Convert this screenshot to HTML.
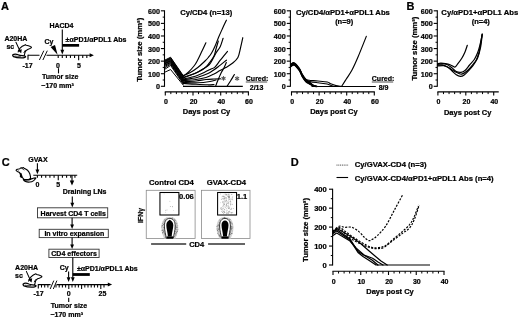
<!DOCTYPE html><html><head><meta charset="utf-8"><style>html,body{margin:0;padding:0;background:#fff;overflow:hidden}svg{display:block;filter:blur(0.35px)}svg text{font-family:"Liberation Sans",sans-serif;font-weight:bold}</style></head><body>
<svg width="520" height="319" viewBox="0 0 520 319" font-family="Liberation Sans, sans-serif" font-weight="bold">
<rect width="520" height="319" fill="#fff"/>
<text x="1.0" y="9.9" font-size="11" text-anchor="start" stroke="#000" stroke-width="0.22" >A</text>
<text x="4.4" y="41.2" font-size="7" text-anchor="start" stroke="#000" stroke-width="0.22" >A20HA</text>
<text x="6.4" y="49.4" font-size="7" text-anchor="start" stroke="#000" stroke-width="0.22" >sc</text>
<g transform="translate(10,40) scale(0.06266)" fill="#fff" stroke="#000" stroke-linejoin="round" stroke-linecap="round">
<path stroke-width="17" d="M130,190 C140,150 160,120 195,100 C215,88 235,80 248,74 L258,84 C280,88 305,95 325,105 C338,110 345,115 342,122 C330,135 305,142 282,150 C262,160 248,175 240,195 C236,215 232,235 225,252"/>
<path stroke-width="20" d="M42,239 C62,221 100,221 135,236 C165,246 205,250 246,260 C256,272 236,283 208,285 C158,287 92,281 57,266 C47,259 40,251 42,239 Z"/>
<path stroke-width="11" fill="none" d="M77,256 C107,261 137,263 167,261"/>
<path stroke-width="13" fill="none" stroke-dasharray="9,8" d="M245,165 L218,208"/>
<line x1="95" y1="35" x2="152" y2="160" stroke-width="16"/>
<polygon points="122,165 188,146 178,212" fill="#000" stroke="none"/>
</g>
<line x1="28.00" y1="55.30" x2="90.50" y2="55.30" stroke="#000" stroke-width="1.1" />
<polygon points="89.60,53.30 89.60,57.30 93.90,55.30" fill="#000"/>
<line x1="28.00" y1="54.80" x2="28.00" y2="59.80" stroke="#000" stroke-width="1.1" />
<rect x="39.5" y="53.8" width="7" height="3" fill="#fff"/>
<line x1="39.40" y1="60.00" x2="43.80" y2="50.70" stroke="#000" stroke-width="0.95" />
<line x1="42.90" y1="60.00" x2="47.30" y2="50.70" stroke="#000" stroke-width="0.95" />
<line x1="58.20" y1="55.30" x2="58.20" y2="57.90" stroke="#000" stroke-width="1.1" />
<line x1="62.29" y1="55.30" x2="62.29" y2="57.90" stroke="#000" stroke-width="1.1" />
<line x1="66.38" y1="55.30" x2="66.38" y2="57.90" stroke="#000" stroke-width="1.1" />
<line x1="70.47" y1="55.30" x2="70.47" y2="57.90" stroke="#000" stroke-width="1.1" />
<line x1="74.56" y1="55.30" x2="74.56" y2="57.90" stroke="#000" stroke-width="1.1" />
<line x1="78.65" y1="55.30" x2="78.65" y2="60.30" stroke="#000" stroke-width="1.1" />
<line x1="82.74" y1="55.30" x2="82.74" y2="57.90" stroke="#000" stroke-width="1.1" />
<line x1="86.83" y1="55.30" x2="86.83" y2="57.90" stroke="#000" stroke-width="1.1" />
<text x="58.0" y="67.9" font-size="7" text-anchor="middle" stroke="#000" stroke-width="0.22" >0</text>
<text x="78.9" y="67.9" font-size="7" text-anchor="middle" stroke="#000" stroke-width="0.22" >5</text>
<text x="27.6" y="67.6" font-size="7" text-anchor="middle" stroke="#000" stroke-width="0.22" >-17</text>
<line x1="58.50" y1="68.20" x2="58.50" y2="73.40" stroke="#000" stroke-width="1.1" />
<text x="41.9" y="79.0" font-size="7" text-anchor="start" stroke="#000" stroke-width="0.22" >Tumor size</text>
<text x="41.3" y="87.6" font-size="7" text-anchor="start" stroke="#000" stroke-width="0.22" >~170 mm³</text>
<text x="44.4" y="43.8" font-size="7" text-anchor="start" stroke="#000" stroke-width="0.22" >Cy</text>
<polygon points="50.60,46.90 55.00,45.10 57.60,54.70" fill="#000"/>
<text x="49.4" y="28.2" font-size="7" text-anchor="start" stroke="#000" stroke-width="0.22" >HACD4</text>
<line x1="62.30" y1="29.40" x2="62.30" y2="50.30" stroke="#000" stroke-width="1.1" />
<polygon points="60.40,49.80 64.20,49.80 62.30,54.60" fill="#000"/>
<rect x="62.3" y="44.0" width="16.8" height="2.7" fill="#000"/>
<text x="65.6" y="42.0" font-size="7" text-anchor="start" stroke="#000" stroke-width="0.22" >±αPD1/αPDL1 Abs</text>
<line x1="164.50" y1="10.32" x2="164.50" y2="86.80" stroke="#000" stroke-width="1.1" />
<line x1="160.90" y1="86.30" x2="164.50" y2="86.30" stroke="#000" stroke-width="1.1" />
<text x="159.9" y="89.3" font-size="7.2" text-anchor="end" stroke="#000" stroke-width="0.22" >0</text>
<line x1="160.90" y1="73.72" x2="164.50" y2="73.72" stroke="#000" stroke-width="1.1" />
<text x="159.9" y="76.72" font-size="7.2" text-anchor="end" stroke="#000" stroke-width="0.22" >100</text>
<line x1="160.90" y1="61.14" x2="164.50" y2="61.14" stroke="#000" stroke-width="1.1" />
<text x="159.9" y="64.14" font-size="7.2" text-anchor="end" stroke="#000" stroke-width="0.22" >200</text>
<line x1="160.90" y1="48.56" x2="164.50" y2="48.56" stroke="#000" stroke-width="1.1" />
<text x="159.9" y="51.559999999999995" font-size="7.2" text-anchor="end" stroke="#000" stroke-width="0.22" >300</text>
<line x1="160.90" y1="35.98" x2="164.50" y2="35.98" stroke="#000" stroke-width="1.1" />
<text x="159.9" y="38.98" font-size="7.2" text-anchor="end" stroke="#000" stroke-width="0.22" >400</text>
<line x1="160.90" y1="23.40" x2="164.50" y2="23.40" stroke="#000" stroke-width="1.1" />
<text x="159.9" y="26.4" font-size="7.2" text-anchor="end" stroke="#000" stroke-width="0.22" >500</text>
<line x1="160.90" y1="10.82" x2="164.50" y2="10.82" stroke="#000" stroke-width="1.1" />
<text x="159.9" y="13.819999999999993" font-size="7.2" text-anchor="end" stroke="#000" stroke-width="0.22" >600</text>
<line x1="162.70" y1="80.01" x2="164.50" y2="80.01" stroke="#000" stroke-width="1.0" />
<line x1="162.70" y1="67.43" x2="164.50" y2="67.43" stroke="#000" stroke-width="1.0" />
<line x1="162.70" y1="54.85" x2="164.50" y2="54.85" stroke="#000" stroke-width="1.0" />
<line x1="162.70" y1="42.27" x2="164.50" y2="42.27" stroke="#000" stroke-width="1.0" />
<line x1="162.70" y1="29.69" x2="164.50" y2="29.69" stroke="#000" stroke-width="1.0" />
<line x1="162.70" y1="17.11" x2="164.50" y2="17.11" stroke="#000" stroke-width="1.0" />
<line x1="164.75" y1="91.90" x2="248.95" y2="91.90" stroke="#000" stroke-width="1.1" />
<line x1="165.30" y1="91.90" x2="165.30" y2="95.60" stroke="#000" stroke-width="1.1" />
<text x="165.9" y="103.6" font-size="7" text-anchor="middle" stroke="#000" stroke-width="0.22" >0</text>
<line x1="170.84" y1="91.90" x2="170.84" y2="94.10" stroke="#000" stroke-width="1.0" />
<line x1="176.38" y1="91.90" x2="176.38" y2="94.10" stroke="#000" stroke-width="1.0" />
<line x1="181.92" y1="91.90" x2="181.92" y2="94.10" stroke="#000" stroke-width="1.0" />
<line x1="187.46" y1="91.90" x2="187.46" y2="94.10" stroke="#000" stroke-width="1.0" />
<line x1="193.00" y1="91.90" x2="193.00" y2="95.60" stroke="#000" stroke-width="1.1" />
<text x="193.6" y="103.6" font-size="7" text-anchor="middle" stroke="#000" stroke-width="0.22" >20</text>
<line x1="198.54" y1="91.90" x2="198.54" y2="94.10" stroke="#000" stroke-width="1.0" />
<line x1="204.08" y1="91.90" x2="204.08" y2="94.10" stroke="#000" stroke-width="1.0" />
<line x1="209.62" y1="91.90" x2="209.62" y2="94.10" stroke="#000" stroke-width="1.0" />
<line x1="215.16" y1="91.90" x2="215.16" y2="94.10" stroke="#000" stroke-width="1.0" />
<line x1="220.70" y1="91.90" x2="220.70" y2="95.60" stroke="#000" stroke-width="1.1" />
<text x="221.3" y="103.6" font-size="7" text-anchor="middle" stroke="#000" stroke-width="0.22" >40</text>
<line x1="226.24" y1="91.90" x2="226.24" y2="94.10" stroke="#000" stroke-width="1.0" />
<line x1="231.78" y1="91.90" x2="231.78" y2="94.10" stroke="#000" stroke-width="1.0" />
<line x1="237.32" y1="91.90" x2="237.32" y2="94.10" stroke="#000" stroke-width="1.0" />
<line x1="242.86" y1="91.90" x2="242.86" y2="94.10" stroke="#000" stroke-width="1.0" />
<line x1="248.40" y1="91.90" x2="248.40" y2="95.60" stroke="#000" stroke-width="1.1" />
<text x="249.0" y="103.6" font-size="7" text-anchor="middle" stroke="#000" stroke-width="0.22" >60</text>
<text x="206.5" y="114.3" font-size="7.5" text-anchor="middle" stroke="#000" stroke-width="0.22" >Days post Cy</text>
<text x="206.2" y="14.5" font-size="7.65" text-anchor="middle" stroke="#000" stroke-width="0.22" >Cy/CD4 (n=13)</text>
<text transform="translate(141.8,49.8) rotate(-90)" font-size="7.75" text-anchor="middle" stroke="#000" stroke-width="0.22">Tumor size (mm³)</text>
<polyline points="165.30,59.88 170.60,57.24 183.20,75.61" fill="none" stroke="#000" stroke-width="1.0" stroke-linejoin="round" stroke-linecap="round" />
<polyline points="165.30,60.51 170.60,57.87 183.20,76.24" fill="none" stroke="#000" stroke-width="1.0" stroke-linejoin="round" stroke-linecap="round" />
<polyline points="165.30,61.14 170.60,58.50 183.20,76.99" fill="none" stroke="#000" stroke-width="1.0" stroke-linejoin="round" stroke-linecap="round" />
<polyline points="165.30,61.77 170.60,59.13 183.20,77.75" fill="none" stroke="#000" stroke-width="1.0" stroke-linejoin="round" stroke-linecap="round" />
<polyline points="165.30,62.40 170.60,59.76 183.20,78.50" fill="none" stroke="#000" stroke-width="1.0" stroke-linejoin="round" stroke-linecap="round" />
<polyline points="165.30,63.03 170.60,60.39 183.20,79.26" fill="none" stroke="#000" stroke-width="1.0" stroke-linejoin="round" stroke-linecap="round" />
<polyline points="165.30,63.66 170.60,61.01 183.20,80.01" fill="none" stroke="#000" stroke-width="1.0" stroke-linejoin="round" stroke-linecap="round" />
<polyline points="165.30,64.41 170.60,61.64 183.20,80.76" fill="none" stroke="#000" stroke-width="1.0" stroke-linejoin="round" stroke-linecap="round" />
<polyline points="165.30,65.17 170.60,62.40 183.20,81.52" fill="none" stroke="#000" stroke-width="1.0" stroke-linejoin="round" stroke-linecap="round" />
<polyline points="165.30,66.17 170.60,63.15 183.20,82.27" fill="none" stroke="#000" stroke-width="1.0" stroke-linejoin="round" stroke-linecap="round" />
<polyline points="165.30,67.43 170.60,64.16 183.20,83.03" fill="none" stroke="#000" stroke-width="1.0" stroke-linejoin="round" stroke-linecap="round" />
<polyline points="165.30,68.94 170.60,65.42 183.20,84.04" fill="none" stroke="#000" stroke-width="1.0" stroke-linejoin="round" stroke-linecap="round" />
<polyline points="165.30,71.96 170.60,69.57 183.20,85.04" fill="none" stroke="#000" stroke-width="1.0" stroke-linejoin="round" stroke-linecap="round" />
<path d="M183.20,75.60 C184.38,75.08 187.87,73.85 190.30,72.50 C192.73,71.15 195.35,69.42 197.80,67.50 C200.25,65.58 203.25,62.67 205.00,61.00 C206.75,59.33 207.20,58.83 208.30,57.50 C209.40,56.17 210.47,54.92 211.60,53.00 C212.73,51.08 213.92,48.67 215.10,46.00 C216.28,43.33 217.47,39.92 218.70,37.00 C219.93,34.08 221.22,31.30 222.50,28.50 C223.78,25.70 225.75,21.58 226.40,20.20" fill="none" stroke="#000" stroke-width="1.15" stroke-linejoin="round" stroke-linecap="round" />
<path d="M183.20,76.40 C184.10,75.67 186.80,73.73 188.60,72.00 C190.40,70.27 192.57,67.85 194.00,66.00 C195.43,64.15 195.87,63.40 197.20,60.90 C198.53,58.40 200.55,54.02 202.00,51.00 C203.45,47.98 205.25,44.17 205.90,42.80" fill="none" stroke="#000" stroke-width="1.15" stroke-linejoin="round" stroke-linecap="round" />
<path d="M183.20,77.20 C185.17,76.58 191.70,74.87 195.00,73.50 C198.30,72.13 200.60,70.50 203.00,69.00 C205.40,67.50 207.78,66.13 209.40,64.50 C211.02,62.87 211.60,61.12 212.70,59.20 C213.80,57.28 214.73,55.12 216.00,53.00 C217.27,50.88 219.12,48.95 220.30,46.50 C221.48,44.05 222.63,39.67 223.10,38.30" fill="none" stroke="#000" stroke-width="1.15" stroke-linejoin="round" stroke-linecap="round" />
<path d="M183.20,78.00 C184.67,77.42 189.20,75.67 192.00,74.50 C194.80,73.33 197.67,72.25 200.00,71.00 C202.33,69.75 204.33,68.50 206.00,67.00 C207.67,65.50 208.67,63.83 210.00,62.00 C211.33,60.17 213.00,58.17 214.00,56.00 C215.00,53.83 215.28,51.50 216.00,49.00 C216.72,46.50 217.92,42.33 218.30,41.00" fill="none" stroke="#000" stroke-width="1.15" stroke-linejoin="round" stroke-linecap="round" />
<path d="M183.20,79.00 C185.33,78.50 192.37,77.17 196.00,76.00 C199.63,74.83 202.50,73.17 205.00,72.00 C207.50,70.83 209.35,69.80 211.00,69.00 C212.65,68.20 213.35,68.67 214.90,67.20 C216.45,65.73 218.20,62.83 220.30,60.20 C222.40,57.57 226.30,52.87 227.50,51.40" fill="none" stroke="#000" stroke-width="1.15" stroke-linejoin="round" stroke-linecap="round" />
<path d="M183.20,79.80 C185.50,79.42 192.87,78.55 197.00,77.50 C201.13,76.45 205.33,74.67 208.00,73.50 C210.67,72.33 211.30,71.62 213.00,70.50 C214.70,69.38 215.97,68.52 218.20,66.80 C220.43,65.08 225.03,61.30 226.40,60.20" fill="none" stroke="#000" stroke-width="1.15" stroke-linejoin="round" stroke-linecap="round" />
<path d="M183.20,80.50 C185.33,80.33 192.20,80.00 196.00,79.50 C199.80,79.00 203.00,78.42 206.00,77.50 C209.00,76.58 211.67,75.17 214.00,74.00 C216.33,72.83 218.03,71.57 220.00,70.50 C221.97,69.43 223.73,68.80 225.80,67.60 C227.87,66.40 230.38,64.98 232.40,63.30 C234.42,61.62 236.55,60.05 237.90,57.50 C239.25,54.95 239.68,51.30 240.50,48.00 C241.32,44.70 242.42,39.42 242.80,37.70" fill="none" stroke="#000" stroke-width="1.15" stroke-linejoin="round" stroke-linecap="round" />
<path d="M215.60,86.30 C215.92,85.47 216.55,83.60 217.50,81.30 C218.45,79.00 220.25,74.67 221.30,72.50 C222.35,70.33 222.97,69.97 223.80,68.30 C224.63,66.63 225.88,63.47 226.30,62.50" fill="none" stroke="#000" stroke-width="1.15" stroke-linejoin="round" stroke-linecap="round" />
<path d="M227.00,86.30 C227.58,85.42 229.27,82.97 230.50,81.00 C231.73,79.03 233.75,75.58 234.40,74.50" fill="none" stroke="#000" stroke-width="1.15" stroke-linejoin="round" stroke-linecap="round" />
<path d="M183.20,81.80 C185.33,81.67 192.20,81.38 196.00,81.00 C199.80,80.62 203.00,79.83 206.00,79.50 C209.00,79.17 211.57,79.12 214.00,79.00 C216.43,78.88 219.50,78.83 220.60,78.80" fill="none" stroke="#000" stroke-width="1.15" stroke-linejoin="round" stroke-linecap="round" />
<path d="M183.20,82.50 C185.67,82.55 193.53,82.97 198.00,82.80 C202.47,82.63 207.00,81.97 210.00,81.50 C213.00,81.03 215.00,80.25 216.00,80.00" fill="none" stroke="#000" stroke-width="1.15" stroke-linejoin="round" stroke-linecap="round" />
<path d="M183.20,83.40 C185.33,83.55 191.87,84.07 196.00,84.30 C200.13,84.53 205.00,84.77 208.00,84.80 C211.00,84.83 213.00,84.55 214.00,84.50" fill="none" stroke="#000" stroke-width="1.15" stroke-linejoin="round" stroke-linecap="round" />
<line x1="183.00" y1="86.30" x2="242.80" y2="86.30" stroke="#000" stroke-width="1.2" />
<line x1="223.50" y1="76.10" x2="223.50" y2="80.70" stroke="#555" stroke-width="1.1" />
<line x1="225.49" y1="77.25" x2="221.51" y2="79.55" stroke="#555" stroke-width="1.1" />
<line x1="225.49" y1="79.55" x2="221.51" y2="77.25" stroke="#555" stroke-width="1.1" />
<line x1="237.10" y1="76.20" x2="237.10" y2="80.80" stroke="#555" stroke-width="1.1" />
<line x1="239.09" y1="77.35" x2="235.11" y2="79.65" stroke="#555" stroke-width="1.1" />
<line x1="239.09" y1="79.65" x2="235.11" y2="77.35" stroke="#555" stroke-width="1.1" />
<text x="245.8" y="80.8" font-size="7" text-anchor="start" stroke="#000" stroke-width="0.22" >Cured:</text>
<line x1="245.80" y1="82.00" x2="267.20" y2="82.00" stroke="#000" stroke-width="0.7" />
<text x="256.6" y="89.5" font-size="7" text-anchor="middle" stroke="#000" stroke-width="0.22" >2/13</text>
<line x1="290.40" y1="10.32" x2="290.40" y2="86.80" stroke="#000" stroke-width="1.1" />
<line x1="286.80" y1="86.30" x2="290.40" y2="86.30" stroke="#000" stroke-width="1.1" />
<text x="285.79999999999995" y="89.3" font-size="7.2" text-anchor="end" stroke="#000" stroke-width="0.22" >0</text>
<line x1="286.80" y1="73.72" x2="290.40" y2="73.72" stroke="#000" stroke-width="1.1" />
<text x="285.79999999999995" y="76.72" font-size="7.2" text-anchor="end" stroke="#000" stroke-width="0.22" >100</text>
<line x1="286.80" y1="61.14" x2="290.40" y2="61.14" stroke="#000" stroke-width="1.1" />
<text x="285.79999999999995" y="64.14" font-size="7.2" text-anchor="end" stroke="#000" stroke-width="0.22" >200</text>
<line x1="286.80" y1="48.56" x2="290.40" y2="48.56" stroke="#000" stroke-width="1.1" />
<text x="285.79999999999995" y="51.559999999999995" font-size="7.2" text-anchor="end" stroke="#000" stroke-width="0.22" >300</text>
<line x1="286.80" y1="35.98" x2="290.40" y2="35.98" stroke="#000" stroke-width="1.1" />
<text x="285.79999999999995" y="38.98" font-size="7.2" text-anchor="end" stroke="#000" stroke-width="0.22" >400</text>
<line x1="286.80" y1="23.40" x2="290.40" y2="23.40" stroke="#000" stroke-width="1.1" />
<text x="285.79999999999995" y="26.4" font-size="7.2" text-anchor="end" stroke="#000" stroke-width="0.22" >500</text>
<line x1="286.80" y1="10.82" x2="290.40" y2="10.82" stroke="#000" stroke-width="1.1" />
<text x="285.79999999999995" y="13.819999999999993" font-size="7.2" text-anchor="end" stroke="#000" stroke-width="0.22" >600</text>
<line x1="288.60" y1="80.01" x2="290.40" y2="80.01" stroke="#000" stroke-width="1.0" />
<line x1="288.60" y1="67.43" x2="290.40" y2="67.43" stroke="#000" stroke-width="1.0" />
<line x1="288.60" y1="54.85" x2="290.40" y2="54.85" stroke="#000" stroke-width="1.0" />
<line x1="288.60" y1="42.27" x2="290.40" y2="42.27" stroke="#000" stroke-width="1.0" />
<line x1="288.60" y1="29.69" x2="290.40" y2="29.69" stroke="#000" stroke-width="1.0" />
<line x1="288.60" y1="17.11" x2="290.40" y2="17.11" stroke="#000" stroke-width="1.0" />
<line x1="290.95" y1="91.90" x2="374.85" y2="91.90" stroke="#000" stroke-width="1.1" />
<line x1="291.50" y1="91.90" x2="291.50" y2="95.60" stroke="#000" stroke-width="1.1" />
<text x="292.1" y="103.6" font-size="7" text-anchor="middle" stroke="#000" stroke-width="0.22" >0</text>
<line x1="297.02" y1="91.90" x2="297.02" y2="94.10" stroke="#000" stroke-width="1.0" />
<line x1="302.54" y1="91.90" x2="302.54" y2="94.10" stroke="#000" stroke-width="1.0" />
<line x1="308.06" y1="91.90" x2="308.06" y2="94.10" stroke="#000" stroke-width="1.0" />
<line x1="313.58" y1="91.90" x2="313.58" y2="94.10" stroke="#000" stroke-width="1.0" />
<line x1="319.10" y1="91.90" x2="319.10" y2="95.60" stroke="#000" stroke-width="1.1" />
<text x="319.70000000000005" y="103.6" font-size="7" text-anchor="middle" stroke="#000" stroke-width="0.22" >20</text>
<line x1="324.62" y1="91.90" x2="324.62" y2="94.10" stroke="#000" stroke-width="1.0" />
<line x1="330.14" y1="91.90" x2="330.14" y2="94.10" stroke="#000" stroke-width="1.0" />
<line x1="335.66" y1="91.90" x2="335.66" y2="94.10" stroke="#000" stroke-width="1.0" />
<line x1="341.18" y1="91.90" x2="341.18" y2="94.10" stroke="#000" stroke-width="1.0" />
<line x1="346.70" y1="91.90" x2="346.70" y2="95.60" stroke="#000" stroke-width="1.1" />
<text x="347.3" y="103.6" font-size="7" text-anchor="middle" stroke="#000" stroke-width="0.22" >40</text>
<line x1="352.22" y1="91.90" x2="352.22" y2="94.10" stroke="#000" stroke-width="1.0" />
<line x1="357.74" y1="91.90" x2="357.74" y2="94.10" stroke="#000" stroke-width="1.0" />
<line x1="363.26" y1="91.90" x2="363.26" y2="94.10" stroke="#000" stroke-width="1.0" />
<line x1="368.78" y1="91.90" x2="368.78" y2="94.10" stroke="#000" stroke-width="1.0" />
<line x1="374.30" y1="91.90" x2="374.30" y2="95.60" stroke="#000" stroke-width="1.1" />
<text x="374.90000000000003" y="103.6" font-size="7" text-anchor="middle" stroke="#000" stroke-width="0.22" >60</text>
<text x="333.9" y="114.4" font-size="7.5" text-anchor="middle" stroke="#000" stroke-width="0.22" >Days post Cy</text>
<text x="342.9" y="15.0" font-size="7.65" text-anchor="middle" stroke="#000" stroke-width="0.22" >Cy/CD4/αPD1+αPDL1 Abs</text>
<text x="344.2" y="24.0" font-size="7.5" text-anchor="middle" stroke="#000" stroke-width="0.22" >(n=9)</text>
<path d="M290.60,64.44 C291.20,64.16 292.77,62.14 294.20,62.74 C295.63,63.34 297.82,66.06 299.20,68.04 C300.58,70.02 301.40,72.77 302.50,74.64 C303.60,76.51 304.52,77.88 305.80,79.24 C307.08,80.60 308.92,81.77 310.20,82.78 C311.48,83.80 312.37,84.73 313.50,85.33 C314.63,85.93 316.42,86.22 317.00,86.39" fill="none" stroke="#000" stroke-width="1.1" stroke-linejoin="round" stroke-linecap="round" />
<path d="M290.60,64.86 C291.20,64.58 292.77,62.56 294.20,63.16 C295.63,63.76 297.82,66.48 299.20,68.46 C300.58,70.44 301.40,73.19 302.50,75.06 C303.60,76.93 304.52,78.33 305.80,79.66 C307.08,80.99 308.92,82.08 310.20,83.05 C311.48,84.02 312.37,84.92 313.50,85.48 C314.63,86.05 316.42,86.27 317.00,86.43" fill="none" stroke="#000" stroke-width="1.1" stroke-linejoin="round" stroke-linecap="round" />
<path d="M290.60,65.28 C291.20,65.00 292.77,62.98 294.20,63.58 C295.63,64.18 297.82,66.90 299.20,68.88 C300.58,70.86 301.40,73.61 302.50,75.48 C303.60,77.35 304.52,78.77 305.80,80.08 C307.08,81.39 308.92,82.40 310.20,83.33 C311.48,84.25 312.37,85.12 313.50,85.64 C314.63,86.17 316.42,86.33 317.00,86.47" fill="none" stroke="#000" stroke-width="1.1" stroke-linejoin="round" stroke-linecap="round" />
<path d="M290.60,65.70 C291.20,65.42 292.77,63.40 294.20,64.00 C295.63,64.60 297.82,67.32 299.20,69.30 C300.58,71.28 301.40,74.03 302.50,75.90 C303.60,77.77 304.52,79.22 305.80,80.50 C307.08,81.78 308.92,82.72 310.20,83.60 C311.48,84.48 312.37,85.32 313.50,85.80 C314.63,86.28 316.42,86.38 317.00,86.50" fill="none" stroke="#000" stroke-width="1.1" stroke-linejoin="round" stroke-linecap="round" />
<path d="M290.60,66.12 C291.20,65.84 292.77,63.82 294.20,64.42 C295.63,65.02 297.82,67.74 299.20,69.72 C300.58,71.70 301.40,74.45 302.50,76.32 C303.60,78.19 304.52,79.66 305.80,80.92 C307.08,82.18 308.92,83.03 310.20,83.87 C311.48,84.71 312.37,85.51 313.50,85.96 C314.63,86.40 316.42,86.44 317.00,86.53" fill="none" stroke="#000" stroke-width="1.1" stroke-linejoin="round" stroke-linecap="round" />
<path d="M290.60,66.54 C291.20,66.26 292.77,64.24 294.20,64.84 C295.63,65.44 297.82,68.16 299.20,70.14 C300.58,72.12 301.40,74.87 302.50,76.74 C303.60,78.61 304.52,80.11 305.80,81.34 C307.08,82.57 308.92,83.35 310.20,84.15 C311.48,84.94 312.37,85.71 313.50,86.11 C314.63,86.52 316.42,86.49 317.00,86.57" fill="none" stroke="#000" stroke-width="1.1" stroke-linejoin="round" stroke-linecap="round" />
<path d="M290.60,66.96 C291.20,66.68 292.77,64.66 294.20,65.26 C295.63,65.86 297.82,68.58 299.20,70.56 C300.58,72.54 301.40,75.29 302.50,77.16 C303.60,79.03 304.52,80.55 305.80,81.76 C307.08,82.97 308.92,83.67 310.20,84.42 C311.48,85.17 312.37,85.91 313.50,86.27 C314.63,86.64 316.42,86.55 317.00,86.61" fill="none" stroke="#000" stroke-width="1.1" stroke-linejoin="round" stroke-linecap="round" />
<path d="M305.80,79.60 C306.33,79.72 306.97,80.07 309.00,80.30 C311.03,80.53 314.97,80.72 318.00,81.00 C321.03,81.28 325.08,81.53 327.20,82.00 C329.32,82.47 329.23,83.20 330.70,83.80 C332.17,84.40 334.28,85.18 336.00,85.60 C337.72,86.02 340.17,86.18 341.00,86.30" fill="none" stroke="#000" stroke-width="1.1" stroke-linejoin="round" stroke-linecap="round" />
<path d="M306.00,80.40 C306.67,80.60 308.00,81.20 310.00,81.60 C312.00,82.00 315.13,82.40 318.00,82.80 C320.87,83.20 325.03,83.53 327.20,84.00 C329.37,84.47 329.87,85.20 331.00,85.60 C332.13,86.00 333.50,86.27 334.00,86.40" fill="none" stroke="#000" stroke-width="1.1" stroke-linejoin="round" stroke-linecap="round" />
<line x1="311.50" y1="86.50" x2="375.80" y2="86.50" stroke="#000" stroke-width="1.2" />
<path d="M341.70,86.30 C342.42,85.17 344.28,82.22 346.00,79.50 C347.72,76.78 350.00,73.75 352.00,70.00 C354.00,66.25 355.62,62.60 358.00,57.00 C360.38,51.40 364.92,39.83 366.30,36.40" fill="none" stroke="#000" stroke-width="1.15" stroke-linejoin="round" stroke-linecap="round" />
<text x="371.8" y="80.8" font-size="7" text-anchor="start" stroke="#000" stroke-width="0.22" >Cured:</text>
<line x1="371.80" y1="82.00" x2="393.20" y2="82.00" stroke="#000" stroke-width="0.7" />
<text x="383.6" y="89.6" font-size="7" text-anchor="middle" stroke="#000" stroke-width="0.22" >8/9</text>
<text x="406.5" y="9.8" font-size="11" text-anchor="start" stroke="#000" stroke-width="0.22" >B</text>
<line x1="437.30" y1="10.32" x2="437.30" y2="86.80" stroke="#000" stroke-width="1.1" />
<line x1="433.70" y1="86.30" x2="437.30" y2="86.30" stroke="#000" stroke-width="1.1" />
<text x="432.7" y="89.3" font-size="7.2" text-anchor="end" stroke="#000" stroke-width="0.22" >0</text>
<line x1="433.70" y1="73.72" x2="437.30" y2="73.72" stroke="#000" stroke-width="1.1" />
<text x="432.7" y="76.72" font-size="7.2" text-anchor="end" stroke="#000" stroke-width="0.22" >100</text>
<line x1="433.70" y1="61.14" x2="437.30" y2="61.14" stroke="#000" stroke-width="1.1" />
<text x="432.7" y="64.14" font-size="7.2" text-anchor="end" stroke="#000" stroke-width="0.22" >200</text>
<line x1="433.70" y1="48.56" x2="437.30" y2="48.56" stroke="#000" stroke-width="1.1" />
<text x="432.7" y="51.559999999999995" font-size="7.2" text-anchor="end" stroke="#000" stroke-width="0.22" >300</text>
<line x1="433.70" y1="35.98" x2="437.30" y2="35.98" stroke="#000" stroke-width="1.1" />
<text x="432.7" y="38.98" font-size="7.2" text-anchor="end" stroke="#000" stroke-width="0.22" >400</text>
<line x1="433.70" y1="23.40" x2="437.30" y2="23.40" stroke="#000" stroke-width="1.1" />
<text x="432.7" y="26.4" font-size="7.2" text-anchor="end" stroke="#000" stroke-width="0.22" >500</text>
<line x1="433.70" y1="10.82" x2="437.30" y2="10.82" stroke="#000" stroke-width="1.1" />
<text x="432.7" y="13.819999999999993" font-size="7.2" text-anchor="end" stroke="#000" stroke-width="0.22" >600</text>
<line x1="435.50" y1="80.01" x2="437.30" y2="80.01" stroke="#000" stroke-width="1.0" />
<line x1="435.50" y1="67.43" x2="437.30" y2="67.43" stroke="#000" stroke-width="1.0" />
<line x1="435.50" y1="54.85" x2="437.30" y2="54.85" stroke="#000" stroke-width="1.0" />
<line x1="435.50" y1="42.27" x2="437.30" y2="42.27" stroke="#000" stroke-width="1.0" />
<line x1="435.50" y1="29.69" x2="437.30" y2="29.69" stroke="#000" stroke-width="1.0" />
<line x1="435.50" y1="17.11" x2="437.30" y2="17.11" stroke="#000" stroke-width="1.0" />
<line x1="437.35" y1="91.90" x2="498.75" y2="91.90" stroke="#000" stroke-width="1.1" />
<line x1="437.90" y1="91.90" x2="437.90" y2="95.60" stroke="#000" stroke-width="1.1" />
<text x="438.5" y="103.6" font-size="7" text-anchor="middle" stroke="#000" stroke-width="0.22" >0</text>
<line x1="443.48" y1="91.90" x2="443.48" y2="94.10" stroke="#000" stroke-width="1.0" />
<line x1="449.06" y1="91.90" x2="449.06" y2="94.10" stroke="#000" stroke-width="1.0" />
<line x1="454.64" y1="91.90" x2="454.64" y2="94.10" stroke="#000" stroke-width="1.0" />
<line x1="460.22" y1="91.90" x2="460.22" y2="94.10" stroke="#000" stroke-width="1.0" />
<line x1="465.80" y1="91.90" x2="465.80" y2="95.60" stroke="#000" stroke-width="1.1" />
<text x="466.4" y="103.6" font-size="7" text-anchor="middle" stroke="#000" stroke-width="0.22" >20</text>
<line x1="471.38" y1="91.90" x2="471.38" y2="94.10" stroke="#000" stroke-width="1.0" />
<line x1="476.96" y1="91.90" x2="476.96" y2="94.10" stroke="#000" stroke-width="1.0" />
<line x1="482.54" y1="91.90" x2="482.54" y2="94.10" stroke="#000" stroke-width="1.0" />
<line x1="488.12" y1="91.90" x2="488.12" y2="94.10" stroke="#000" stroke-width="1.0" />
<line x1="493.70" y1="91.90" x2="493.70" y2="95.60" stroke="#000" stroke-width="1.1" />
<text x="494.3" y="103.6" font-size="7" text-anchor="middle" stroke="#000" stroke-width="0.22" >40</text>
<text x="467.7" y="114.5" font-size="7.5" text-anchor="middle" stroke="#000" stroke-width="0.22" >Days post Cy</text>
<text x="479.8" y="14.7" font-size="7.7" text-anchor="middle" stroke="#000" stroke-width="0.22" >Cy/αPD1+αPDL1 Abs</text>
<text x="480.8" y="23.7" font-size="7.5" text-anchor="middle" stroke="#000" stroke-width="0.22" >(n=4)</text>
<text transform="translate(417.4,48.6) rotate(-90)" font-size="7.75" text-anchor="middle" stroke="#000" stroke-width="0.22">Tumor size (mm³)</text>
<path d="M437.60,63.80 C438.12,63.70 439.40,63.23 440.70,63.20 C442.00,63.17 443.83,63.35 445.40,63.60 C446.97,63.85 448.53,64.12 450.10,64.70 C451.67,65.28 453.50,67.28 454.80,67.10 C456.10,66.92 456.73,65.08 457.90,63.60 C459.07,62.12 460.62,60.15 461.80,58.20 C462.98,56.25 464.08,54.05 465.00,51.90 C465.92,49.75 466.92,46.40 467.30,45.30" fill="none" stroke="#000" stroke-width="1.2" stroke-linejoin="round" stroke-linecap="round" />
<path d="M437.60,64.40 C438.38,64.27 440.73,63.58 442.30,63.60 C443.87,63.62 445.45,63.83 447.00,64.50 C448.55,65.17 450.05,66.43 451.60,67.60 C453.15,68.77 454.73,70.72 456.30,71.50 C457.87,72.28 459.55,72.47 461.00,72.30 C462.45,72.13 463.57,71.72 465.00,70.50 C466.43,69.28 468.05,66.83 469.60,65.00 C471.15,63.17 472.98,61.50 474.30,59.50 C475.62,57.50 476.58,55.32 477.50,53.00 C478.42,50.68 479.02,48.65 479.80,45.60 C480.58,42.55 481.80,36.52 482.20,34.70" fill="none" stroke="#000" stroke-width="1.2" stroke-linejoin="round" stroke-linecap="round" />
<path d="M437.60,65.20 C438.38,65.13 440.73,64.53 442.30,64.80 C443.87,65.07 445.45,65.85 447.00,66.80 C448.55,67.75 450.05,69.17 451.60,70.50 C453.15,71.83 454.85,73.82 456.30,74.80 C457.75,75.78 458.98,76.37 460.30,76.40 C461.62,76.43 462.65,76.13 464.20,75.00 C465.75,73.87 467.78,71.68 469.60,69.60 C471.42,67.52 473.53,65.35 475.10,62.50 C476.67,59.65 477.82,57.27 479.00,52.50 C480.18,47.73 481.67,37.00 482.20,33.90" fill="none" stroke="#000" stroke-width="1.2" stroke-linejoin="round" stroke-linecap="round" />
<path d="M437.60,66.00 C438.63,65.95 441.90,65.40 443.80,65.70 C445.70,66.00 447.47,67.00 449.00,67.80 C450.53,68.60 451.52,69.63 453.00,70.50 C454.48,71.37 456.43,72.40 457.90,73.00 C459.37,73.60 460.23,74.48 461.80,74.10 C463.37,73.72 465.33,72.45 467.30,70.70 C469.27,68.95 471.90,65.68 473.60,63.60 C475.30,61.52 476.33,60.93 477.50,58.20 C478.67,55.47 479.82,51.12 480.60,47.20 C481.38,43.28 481.93,36.78 482.20,34.70" fill="none" stroke="#000" stroke-width="1.2" stroke-linejoin="round" stroke-linecap="round" />
<text x="1.8" y="166.0" font-size="11" text-anchor="start" stroke="#000" stroke-width="0.22" >C</text>
<text x="37.9" y="161.9" font-size="7" text-anchor="middle" stroke="#000" stroke-width="0.22" >GVAX</text>
<line x1="37.40" y1="163.20" x2="37.40" y2="169.90" stroke="#000" stroke-width="1.1" />
<polygon points="35.50,169.40 39.30,169.40 37.40,174.20" fill="#000"/>
<g transform="translate(13,164) scale(0.06897)" fill="#fff" stroke="#000" stroke-width="16" stroke-linejoin="round" stroke-linecap="round">
<path d="M150,226 C165,250 200,266 245,262 C285,258 315,232 332,202 C315,196 298,206 280,212 C250,222 215,228 180,226 C168,225 158,224 150,226 Z"/>
<path d="M45,92 L50,82 L62,75 L80,72 L100,68 L108,60 L118,54 L128,58 L132,62 L140,55 L152,51 L160,60 L175,68 L195,80 L215,95 L232,118 L245,145 L252,175 L255,210 L230,222 L180,226 L160,222 L148,210 L135,196 L125,188 L112,188 L106,178 L110,162 L104,146 L98,130 L90,121 L78,115 L64,108 L52,100 Z"/>
<path fill="none" stroke-width="24" d="M112,140 C118,155 122,170 128,188"/>
<path fill="none" stroke-width="18" d="M175,228 C200,234 230,232 255,222"/>
<path fill="none" stroke-width="10" d="M128,62 C138,72 150,80 160,86"/>
<path fill="none" stroke-width="12" d="M72,88 L74,90"/>
</g>
<line x1="33.30" y1="175.20" x2="77.20" y2="175.20" stroke="#000" stroke-width="1.1" />
<line x1="37.40" y1="175.20" x2="37.40" y2="177.80" stroke="#000" stroke-width="1.1" />
<line x1="41.57" y1="175.20" x2="41.57" y2="177.80" stroke="#000" stroke-width="1.1" />
<line x1="45.74" y1="175.20" x2="45.74" y2="177.80" stroke="#000" stroke-width="1.1" />
<line x1="49.91" y1="175.20" x2="49.91" y2="177.80" stroke="#000" stroke-width="1.1" />
<line x1="54.08" y1="175.20" x2="54.08" y2="177.80" stroke="#000" stroke-width="1.1" />
<line x1="58.25" y1="175.20" x2="58.25" y2="180.20" stroke="#000" stroke-width="1.1" />
<line x1="62.42" y1="175.20" x2="62.42" y2="177.80" stroke="#000" stroke-width="1.1" />
<line x1="66.59" y1="175.20" x2="66.59" y2="177.80" stroke="#000" stroke-width="1.1" />
<line x1="70.76" y1="175.20" x2="70.76" y2="177.80" stroke="#000" stroke-width="1.1" />
<line x1="74.93" y1="175.20" x2="74.93" y2="177.80" stroke="#000" stroke-width="1.1" />
<text x="37.4" y="187.0" font-size="7" text-anchor="middle" stroke="#000" stroke-width="0.22" >0</text>
<text x="58.3" y="187.0" font-size="7" text-anchor="middle" stroke="#000" stroke-width="0.22" >5</text>
<line x1="72.00" y1="175.20" x2="72.00" y2="181.10" stroke="#000" stroke-width="1.1" />
<polygon points="69.80,180.60 74.20,180.60 72.00,185.60" fill="#000"/>
<text x="62.8" y="194.4" font-size="7" text-anchor="start" stroke="#000" stroke-width="0.22" >Draining LNs</text>
<line x1="72.30" y1="196.60" x2="72.30" y2="203.30" stroke="#000" stroke-width="1.1" />
<polygon points="70.40,202.80 74.20,202.80 72.30,207.40" fill="#000"/>
<rect x="37.5" y="207.8" width="70.2" height="10.0" fill="#fff" stroke="#333" stroke-width="0.9"/>
<text x="40.6" y="215.6" font-size="7" text-anchor="start" stroke="#000" stroke-width="0.22" >Harvest CD4 T cells</text>
<line x1="72.10" y1="217.80" x2="72.10" y2="224.90" stroke="#000" stroke-width="1.1" />
<polygon points="70.20,224.40 74.00,224.40 72.10,229.00" fill="#000"/>
<rect x="39.2" y="229.3" width="69.1" height="8.3" fill="#fff" stroke="#333" stroke-width="0.9"/>
<text x="44.4" y="235.6" font-size="7" text-anchor="start" stroke="#000" stroke-width="0.22" >In vitro expansion</text>
<line x1="72.10" y1="237.60" x2="72.10" y2="244.90" stroke="#000" stroke-width="1.1" />
<polygon points="70.20,244.40 74.00,244.40 72.10,249.00" fill="#000"/>
<rect x="48.9" y="249.2" width="50.2" height="8.3" fill="#fff" stroke="#333" stroke-width="0.9"/>
<text x="51.3" y="255.8" font-size="7" text-anchor="start" stroke="#000" stroke-width="0.22" >CD4 effectors</text>
<line x1="72.80" y1="257.50" x2="72.80" y2="277.70" stroke="#000" stroke-width="1.1" />
<polygon points="70.90,277.20 74.70,277.20 72.80,282.00" fill="#000"/>
<rect x="72.8" y="273.1" width="17.0" height="2.8" fill="#000"/>
<text x="76.9" y="271.3" font-size="7" text-anchor="start" stroke="#000" stroke-width="0.22" >±αPD1/αPDL1 Abs</text>
<text x="59.8" y="269.8" font-size="7" text-anchor="start" stroke="#000" stroke-width="0.22" >Cy</text>
<line x1="68.60" y1="271.50" x2="68.60" y2="277.70" stroke="#000" stroke-width="1.1" />
<polygon points="66.70,277.20 70.50,277.20 68.60,282.00" fill="#000"/>
<text x="15.1" y="269.8" font-size="7" text-anchor="start" stroke="#000" stroke-width="0.22" >A20HA</text>
<text x="15.0" y="277.9" font-size="7" text-anchor="start" stroke="#000" stroke-width="0.22" >sc</text>
<g transform="translate(20.4,269.2) scale(0.06266)" fill="#fff" stroke="#000" stroke-linejoin="round" stroke-linecap="round">
<path stroke-width="17" d="M130,190 C140,150 160,120 195,100 C215,88 235,80 248,74 L258,84 C280,88 305,95 325,105 C338,110 345,115 342,122 C330,135 305,142 282,150 C262,160 248,175 240,195 C236,215 232,235 225,252"/>
<path stroke-width="20" d="M42,239 C62,221 100,221 135,236 C165,246 205,250 246,260 C256,272 236,283 208,285 C158,287 92,281 57,266 C47,259 40,251 42,239 Z"/>
<path stroke-width="11" fill="none" d="M77,256 C107,261 137,263 167,261"/>
<path stroke-width="13" fill="none" stroke-dasharray="9,8" d="M245,165 L218,208"/>
<line x1="95" y1="35" x2="152" y2="160" stroke-width="16"/>
<polygon points="122,165 188,146 178,212" fill="#000" stroke="none"/>
</g>
<line x1="38.30" y1="284.60" x2="108.50" y2="284.60" stroke="#000" stroke-width="1.1" />
<polygon points="107.80,282.60 107.80,286.60 112.10,284.60" fill="#000"/>
<line x1="38.30" y1="284.10" x2="38.30" y2="288.40" stroke="#000" stroke-width="1.1" />
<line x1="41.50" y1="284.60" x2="41.50" y2="287.50" stroke="#000" stroke-width="1.05" />
<line x1="44.70" y1="284.60" x2="44.70" y2="287.50" stroke="#000" stroke-width="1.05" />
<line x1="47.90" y1="284.60" x2="47.90" y2="287.50" stroke="#000" stroke-width="1.05" />
<rect x="50.6" y="283.1" width="6" height="3" fill="#fff"/>
<line x1="50.20" y1="289.00" x2="53.80" y2="280.60" stroke="#000" stroke-width="0.95" />
<line x1="53.30" y1="289.00" x2="56.90" y2="280.60" stroke="#000" stroke-width="0.95" />
<line x1="56.00" y1="284.60" x2="56.00" y2="287.50" stroke="#000" stroke-width="1.05" />
<line x1="59.20" y1="284.60" x2="59.20" y2="287.50" stroke="#000" stroke-width="1.05" />
<line x1="62.40" y1="284.60" x2="62.40" y2="287.50" stroke="#000" stroke-width="1.05" />
<line x1="65.60" y1="284.60" x2="65.60" y2="287.50" stroke="#000" stroke-width="1.05" />
<line x1="68.80" y1="284.60" x2="68.80" y2="289.00" stroke="#000" stroke-width="1.05" />
<line x1="72.00" y1="284.60" x2="72.00" y2="287.50" stroke="#000" stroke-width="1.05" />
<line x1="75.20" y1="284.60" x2="75.20" y2="287.50" stroke="#000" stroke-width="1.05" />
<line x1="78.40" y1="284.60" x2="78.40" y2="287.50" stroke="#000" stroke-width="1.05" />
<line x1="81.60" y1="284.60" x2="81.60" y2="289.00" stroke="#000" stroke-width="1.05" />
<line x1="84.80" y1="284.60" x2="84.80" y2="287.50" stroke="#000" stroke-width="1.05" />
<line x1="88.00" y1="284.60" x2="88.00" y2="287.50" stroke="#000" stroke-width="1.05" />
<line x1="91.20" y1="284.60" x2="91.20" y2="287.50" stroke="#000" stroke-width="1.05" />
<line x1="94.40" y1="284.60" x2="94.40" y2="287.50" stroke="#000" stroke-width="1.05" />
<line x1="97.60" y1="284.60" x2="97.60" y2="287.50" stroke="#000" stroke-width="1.05" />
<line x1="100.80" y1="284.60" x2="100.80" y2="289.00" stroke="#000" stroke-width="1.05" />
<line x1="104.00" y1="284.60" x2="104.00" y2="287.50" stroke="#000" stroke-width="1.05" />
<text x="38.6" y="295.8" font-size="7" text-anchor="middle" stroke="#000" stroke-width="0.22" >-17</text>
<text x="68.8" y="296.3" font-size="7" text-anchor="middle" stroke="#000" stroke-width="0.22" >0</text>
<text x="102.5" y="296.0" font-size="7" text-anchor="middle" stroke="#000" stroke-width="0.22" >25</text>
<line x1="68.70" y1="297.80" x2="68.70" y2="302.00" stroke="#000" stroke-width="1.1" />
<text x="50.8" y="307.9" font-size="7" text-anchor="start" stroke="#000" stroke-width="0.22" >Tumor size</text>
<text x="50.5" y="317.3" font-size="7" text-anchor="start" stroke="#000" stroke-width="0.22" >~170 mm³</text>
<text x="171.4" y="184.8" font-size="7.7" text-anchor="middle" stroke="#000" stroke-width="0.22" >Control CD4</text>
<text x="226.4" y="184.8" font-size="7.7" text-anchor="middle" stroke="#000" stroke-width="0.22" >GVAX-CD4</text>
<text transform="translate(142.7,215.5) rotate(-90)" font-size="7" text-anchor="middle" stroke="#000" stroke-width="0.22">IFNγ</text>
<rect x="146.25" y="190.3" width="48.85" height="48.1" fill="none" stroke="#8a8a8a" stroke-width="0.8"/>
<path d="M161.3,228 C161.3,220 164.8,217.0 169.8,217.0 C174.8,217.0 178.3,220 178.3,228 C178.3,233 176.0,236.5 175.60000000000002,238.5 L164.0,238.5 C163.60000000000002,236.5 161.3,233 161.3,228 Z" fill="#d2d2d2"/>
<circle cx="167.6" cy="234.1" r="0.42" fill="#888"/>
<circle cx="177.1" cy="231.3" r="0.42" fill="#444"/>
<circle cx="166.8" cy="232.7" r="0.42" fill="#888"/>
<circle cx="170.8" cy="234.2" r="0.42" fill="#666"/>
<circle cx="173.9" cy="230.9" r="0.42" fill="#666"/>
<circle cx="175.9" cy="231.5" r="0.42" fill="#444"/>
<circle cx="165.3" cy="221.8" r="0.42" fill="#444"/>
<circle cx="164.6" cy="224.7" r="0.42" fill="#444"/>
<circle cx="177.3" cy="231.3" r="0.42" fill="#666"/>
<circle cx="164.1" cy="232.5" r="0.42" fill="#888"/>
<circle cx="167.1" cy="237.8" r="0.42" fill="#444"/>
<circle cx="175.1" cy="233.6" r="0.42" fill="#444"/>
<circle cx="165.3" cy="234.5" r="0.42" fill="#444"/>
<circle cx="163.5" cy="224.7" r="0.42" fill="#666"/>
<circle cx="167.3" cy="221.1" r="0.42" fill="#666"/>
<circle cx="161.9" cy="230.6" r="0.42" fill="#666"/>
<circle cx="167.5" cy="237.9" r="0.42" fill="#888"/>
<circle cx="170.6" cy="222.3" r="0.42" fill="#666"/>
<circle cx="162.0" cy="226.6" r="0.42" fill="#888"/>
<circle cx="163.4" cy="231.1" r="0.42" fill="#444"/>
<circle cx="174.2" cy="233.7" r="0.42" fill="#666"/>
<circle cx="173.4" cy="235.1" r="0.42" fill="#444"/>
<circle cx="174.2" cy="226.9" r="0.42" fill="#888"/>
<circle cx="162.7" cy="223.6" r="0.42" fill="#666"/>
<circle cx="166.8" cy="234.7" r="0.42" fill="#666"/>
<circle cx="164.4" cy="224.4" r="0.42" fill="#444"/>
<circle cx="175.6" cy="225.5" r="0.42" fill="#888"/>
<circle cx="176.5" cy="232.2" r="0.42" fill="#666"/>
<circle cx="164.8" cy="219.4" r="0.42" fill="#666"/>
<circle cx="168.5" cy="235.9" r="0.42" fill="#888"/>
<circle cx="165.1" cy="237.2" r="0.42" fill="#666"/>
<circle cx="172.1" cy="233.7" r="0.42" fill="#444"/>
<circle cx="170.9" cy="235.4" r="0.42" fill="#888"/>
<circle cx="169.9" cy="236.1" r="0.42" fill="#666"/>
<circle cx="175.1" cy="232.2" r="0.42" fill="#888"/>
<circle cx="169.0" cy="234.6" r="0.42" fill="#666"/>
<circle cx="173.3" cy="222.9" r="0.42" fill="#666"/>
<circle cx="176.8" cy="227.5" r="0.42" fill="#666"/>
<circle cx="174.5" cy="226.6" r="0.42" fill="#444"/>
<circle cx="173.8" cy="235.9" r="0.42" fill="#444"/>
<circle cx="163.2" cy="229.1" r="0.42" fill="#666"/>
<circle cx="168.8" cy="234.6" r="0.42" fill="#888"/>
<circle cx="165.3" cy="234.7" r="0.42" fill="#444"/>
<circle cx="167.5" cy="220.4" r="0.42" fill="#888"/>
<circle cx="165.7" cy="220.2" r="0.42" fill="#666"/>
<circle cx="175.8" cy="222.4" r="0.42" fill="#888"/>
<circle cx="171.5" cy="220.9" r="0.42" fill="#666"/>
<circle cx="164.9" cy="233.4" r="0.42" fill="#666"/>
<circle cx="173.9" cy="230.6" r="0.42" fill="#444"/>
<circle cx="165.5" cy="230.6" r="0.42" fill="#888"/>
<circle cx="173.8" cy="230.1" r="0.42" fill="#444"/>
<circle cx="161.8" cy="225.8" r="0.42" fill="#888"/>
<circle cx="177.6" cy="230.0" r="0.42" fill="#888"/>
<circle cx="164.9" cy="234.7" r="0.42" fill="#666"/>
<circle cx="164.8" cy="223.4" r="0.42" fill="#444"/>
<circle cx="174.7" cy="219.2" r="0.42" fill="#666"/>
<circle cx="164.3" cy="229.2" r="0.42" fill="#444"/>
<circle cx="174.3" cy="232.8" r="0.42" fill="#666"/>
<circle cx="162.8" cy="229.6" r="0.42" fill="#888"/>
<circle cx="177.9" cy="229.9" r="0.42" fill="#888"/>
<circle cx="165.2" cy="235.5" r="0.42" fill="#444"/>
<circle cx="170.1" cy="221.0" r="0.42" fill="#888"/>
<circle cx="174.5" cy="221.1" r="0.42" fill="#666"/>
<circle cx="161.8" cy="227.1" r="0.42" fill="#666"/>
<circle cx="170.7" cy="219.8" r="0.42" fill="#888"/>
<circle cx="167.3" cy="234.3" r="0.42" fill="#444"/>
<circle cx="172.4" cy="218.7" r="0.42" fill="#888"/>
<circle cx="171.5" cy="222.0" r="0.42" fill="#666"/>
<circle cx="167.1" cy="232.8" r="0.42" fill="#444"/>
<circle cx="171.3" cy="220.3" r="0.42" fill="#444"/>
<circle cx="166.9" cy="218.1" r="0.42" fill="#666"/>
<circle cx="172.4" cy="219.3" r="0.42" fill="#666"/>
<circle cx="175.3" cy="226.2" r="0.42" fill="#444"/>
<circle cx="174.7" cy="233.2" r="0.42" fill="#666"/>
<circle cx="171.7" cy="237.0" r="0.42" fill="#888"/>
<circle cx="173.1" cy="221.3" r="0.42" fill="#888"/>
<circle cx="166.0" cy="235.9" r="0.42" fill="#888"/>
<circle cx="174.1" cy="233.6" r="0.42" fill="#888"/>
<circle cx="169.8" cy="220.0" r="0.42" fill="#444"/>
<circle cx="163.5" cy="232.0" r="0.42" fill="#444"/>
<circle cx="172.4" cy="217.8" r="0.42" fill="#666"/>
<circle cx="162.7" cy="230.5" r="0.42" fill="#444"/>
<circle cx="169.0" cy="221.8" r="0.42" fill="#444"/>
<circle cx="176.4" cy="229.8" r="0.42" fill="#666"/>
<circle cx="171.5" cy="222.3" r="0.42" fill="#888"/>
<circle cx="176.7" cy="227.2" r="0.42" fill="#666"/>
<circle cx="173.4" cy="235.5" r="0.42" fill="#444"/>
<circle cx="178.0" cy="229.3" r="0.42" fill="#888"/>
<circle cx="175.7" cy="234.2" r="0.42" fill="#444"/>
<circle cx="162.6" cy="232.5" r="0.42" fill="#444"/>
<circle cx="174.8" cy="229.5" r="0.42" fill="#888"/>
<circle cx="170.2" cy="237.2" r="0.42" fill="#666"/>
<circle cx="162.4" cy="225.5" r="0.42" fill="#444"/>
<circle cx="174.6" cy="224.2" r="0.42" fill="#666"/>
<circle cx="165.8" cy="219.6" r="0.42" fill="#888"/>
<circle cx="162.7" cy="233.4" r="0.42" fill="#888"/>
<circle cx="173.1" cy="233.0" r="0.42" fill="#888"/>
<circle cx="175.8" cy="229.2" r="0.42" fill="#444"/>
<circle cx="164.0" cy="222.0" r="0.42" fill="#444"/>
<circle cx="172.7" cy="235.6" r="0.42" fill="#888"/>
<circle cx="173.0" cy="232.4" r="0.42" fill="#888"/>
<circle cx="163.3" cy="227.3" r="0.42" fill="#444"/>
<circle cx="173.1" cy="224.3" r="0.42" fill="#444"/>
<circle cx="168.5" cy="238.1" r="0.42" fill="#888"/>
<circle cx="165.7" cy="230.0" r="0.42" fill="#444"/>
<circle cx="163.5" cy="231.5" r="0.42" fill="#888"/>
<circle cx="165.8" cy="224.1" r="0.42" fill="#666"/>
<circle cx="163.6" cy="230.8" r="0.42" fill="#666"/>
<circle cx="164.6" cy="228.0" r="0.42" fill="#888"/>
<circle cx="175.6" cy="220.7" r="0.42" fill="#666"/>
<circle cx="176.8" cy="223.4" r="0.42" fill="#444"/>
<circle cx="172.4" cy="222.9" r="0.42" fill="#444"/>
<circle cx="165.5" cy="232.9" r="0.42" fill="#888"/>
<circle cx="170.1" cy="234.3" r="0.42" fill="#888"/>
<circle cx="168.3" cy="234.2" r="0.42" fill="#444"/>
<circle cx="176.2" cy="224.9" r="0.42" fill="#666"/>
<circle cx="174.7" cy="236.5" r="0.42" fill="#666"/>
<circle cx="164.8" cy="233.3" r="0.42" fill="#888"/>
<circle cx="172.2" cy="222.6" r="0.42" fill="#666"/>
<circle cx="175.7" cy="228.0" r="0.42" fill="#666"/>
<circle cx="171.7" cy="235.3" r="0.42" fill="#888"/>
<circle cx="166.1" cy="233.9" r="0.42" fill="#666"/>
<circle cx="165.8" cy="230.4" r="0.42" fill="#666"/>
<circle cx="164.4" cy="227.5" r="0.42" fill="#444"/>
<circle cx="175.9" cy="235.3" r="0.42" fill="#444"/>
<circle cx="174.4" cy="227.2" r="0.42" fill="#666"/>
<circle cx="172.9" cy="237.2" r="0.42" fill="#666"/>
<circle cx="173.9" cy="220.7" r="0.42" fill="#666"/>
<circle cx="164.4" cy="233.1" r="0.42" fill="#888"/>
<circle cx="163.3" cy="224.2" r="0.42" fill="#444"/>
<circle cx="168.4" cy="238.2" r="0.42" fill="#444"/>
<circle cx="165.8" cy="231.0" r="0.42" fill="#444"/>
<circle cx="164.8" cy="220.8" r="0.42" fill="#444"/>
<circle cx="165.8" cy="224.0" r="0.42" fill="#666"/>
<circle cx="173.8" cy="222.1" r="0.42" fill="#666"/>
<circle cx="175.8" cy="228.0" r="0.42" fill="#666"/>
<circle cx="166.6" cy="224.3" r="0.42" fill="#888"/>
<circle cx="170.1" cy="234.5" r="0.42" fill="#444"/>
<circle cx="169.4" cy="234.9" r="0.42" fill="#666"/>
<circle cx="165.4" cy="222.1" r="0.42" fill="#444"/>
<circle cx="168.2" cy="236.4" r="0.42" fill="#444"/>
<circle cx="168.8" cy="238.3" r="0.42" fill="#666"/>
<circle cx="174.0" cy="229.6" r="0.42" fill="#888"/>
<circle cx="165.1" cy="226.2" r="0.42" fill="#666"/>
<circle cx="170.0" cy="236.4" r="0.42" fill="#888"/>
<circle cx="172.3" cy="221.0" r="0.42" fill="#666"/>
<circle cx="162.2" cy="225.3" r="0.42" fill="#888"/>
<circle cx="168.0" cy="234.7" r="0.42" fill="#444"/>
<circle cx="165.6" cy="236.9" r="0.42" fill="#888"/>
<circle cx="169.2" cy="222.0" r="0.42" fill="#666"/>
<circle cx="177.5" cy="227.1" r="0.42" fill="#444"/>
<circle cx="176.4" cy="232.5" r="0.42" fill="#666"/>
<circle cx="165.8" cy="230.8" r="0.42" fill="#888"/>
<circle cx="174.1" cy="219.5" r="0.42" fill="#888"/>
<circle cx="176.4" cy="226.7" r="0.42" fill="#888"/>
<circle cx="168.2" cy="236.2" r="0.42" fill="#444"/>
<circle cx="169.3" cy="233.9" r="0.42" fill="#666"/>
<circle cx="177.8" cy="225.7" r="0.42" fill="#888"/>
<circle cx="167.9" cy="233.5" r="0.42" fill="#666"/>
<circle cx="170.8" cy="234.8" r="0.42" fill="#666"/>
<circle cx="165.2" cy="233.9" r="0.42" fill="#888"/>
<circle cx="166.9" cy="222.5" r="0.42" fill="#444"/>
<circle cx="176.2" cy="233.8" r="0.42" fill="#444"/>
<circle cx="166.3" cy="231.7" r="0.42" fill="#444"/>
<circle cx="167.7" cy="237.0" r="0.42" fill="#444"/>
<circle cx="164.3" cy="223.9" r="0.42" fill="#444"/>
<circle cx="165.8" cy="220.3" r="0.42" fill="#888"/>
<circle cx="165.5" cy="233.1" r="0.42" fill="#666"/>
<path d="M164.4,226 C164.4,221 166.60000000000002,218.4 169.8,218.4 C173.0,218.4 175.20000000000002,221 175.20000000000002,226 C175.20000000000002,231 173.60000000000002,235 173.4,238.2 L166.20000000000002,238.2 C166.0,235 164.4,231 164.4,226 Z" fill="#fff" stroke="#222" stroke-width="0.9"/>
<path d="M169.8,219.8 C171.0,220.6 173.3,222.2 173.3,225 C173.3,229 171.9,232 171.70000000000002,236.6 L167.9,236.6 C167.70000000000002,232 166.3,229 166.3,225 C166.3,222.2 168.60000000000002,220.6 169.8,219.8 Z" fill="#000"/>
<rect x="166.60000000000002" y="236.4" width="6.4" height="2.1" fill="#000"/>
<circle cx="172.5" cy="206.7" r="0.45" fill="#666"/>
<circle cx="173.6" cy="210.4" r="0.45" fill="#bbb"/>
<circle cx="165.8" cy="210.2" r="0.45" fill="#888"/>
<circle cx="165.7" cy="212.2" r="0.45" fill="#bbb"/>
<circle cx="164.1" cy="193.9" r="0.45" fill="#bbb"/>
<circle cx="167.0" cy="209.9" r="0.45" fill="#888"/>
<circle cx="170.3" cy="206.6" r="0.45" fill="#666"/>
<circle cx="169.9" cy="201.3" r="0.45" fill="#aaa"/>
<rect x="159.95" y="192.5" width="18.95" height="22.5" fill="none" stroke="#000" stroke-width="1.05"/>
<text x="179.04999999999998" y="198.7" font-size="7.6" text-anchor="start" stroke="#000" stroke-width="0.22" >0.06</text>
<rect x="201.5" y="190.3" width="48.5" height="48.1" fill="none" stroke="#8a8a8a" stroke-width="0.8"/>
<path d="M216.5,228 C216.5,220 220.0,217.0 225.0,217.0 C230.0,217.0 233.5,220 233.5,228 C233.5,233 231.2,236.5 230.8,238.5 L219.2,238.5 C218.8,236.5 216.5,233 216.5,228 Z" fill="#d2d2d2"/>
<circle cx="218.6" cy="225.0" r="0.42" fill="#888"/>
<circle cx="219.9" cy="226.9" r="0.42" fill="#666"/>
<circle cx="232.5" cy="228.5" r="0.42" fill="#888"/>
<circle cx="232.3" cy="223.9" r="0.42" fill="#444"/>
<circle cx="222.6" cy="223.3" r="0.42" fill="#888"/>
<circle cx="217.5" cy="230.0" r="0.42" fill="#666"/>
<circle cx="225.7" cy="238.1" r="0.42" fill="#444"/>
<circle cx="224.5" cy="217.3" r="0.42" fill="#666"/>
<circle cx="227.6" cy="223.3" r="0.42" fill="#888"/>
<circle cx="224.0" cy="234.0" r="0.42" fill="#888"/>
<circle cx="222.2" cy="223.6" r="0.42" fill="#444"/>
<circle cx="221.6" cy="236.4" r="0.42" fill="#888"/>
<circle cx="222.8" cy="236.6" r="0.42" fill="#444"/>
<circle cx="218.8" cy="229.2" r="0.42" fill="#888"/>
<circle cx="229.1" cy="232.3" r="0.42" fill="#666"/>
<circle cx="223.4" cy="236.5" r="0.42" fill="#666"/>
<circle cx="217.7" cy="230.4" r="0.42" fill="#888"/>
<circle cx="228.9" cy="226.1" r="0.42" fill="#666"/>
<circle cx="230.6" cy="232.2" r="0.42" fill="#666"/>
<circle cx="230.8" cy="228.0" r="0.42" fill="#444"/>
<circle cx="229.1" cy="231.1" r="0.42" fill="#888"/>
<circle cx="216.9" cy="226.7" r="0.42" fill="#444"/>
<circle cx="219.5" cy="222.8" r="0.42" fill="#666"/>
<circle cx="230.4" cy="222.1" r="0.42" fill="#444"/>
<circle cx="217.1" cy="228.4" r="0.42" fill="#666"/>
<circle cx="229.2" cy="229.2" r="0.42" fill="#666"/>
<circle cx="222.5" cy="221.1" r="0.42" fill="#888"/>
<circle cx="228.6" cy="234.1" r="0.42" fill="#666"/>
<circle cx="229.1" cy="233.4" r="0.42" fill="#666"/>
<circle cx="225.0" cy="218.0" r="0.42" fill="#444"/>
<circle cx="229.7" cy="225.8" r="0.42" fill="#444"/>
<circle cx="229.4" cy="224.1" r="0.42" fill="#666"/>
<circle cx="230.4" cy="231.4" r="0.42" fill="#888"/>
<circle cx="232.2" cy="233.3" r="0.42" fill="#666"/>
<circle cx="228.3" cy="222.6" r="0.42" fill="#444"/>
<circle cx="227.7" cy="222.1" r="0.42" fill="#444"/>
<circle cx="225.0" cy="235.4" r="0.42" fill="#888"/>
<circle cx="222.0" cy="237.4" r="0.42" fill="#666"/>
<circle cx="230.7" cy="221.6" r="0.42" fill="#888"/>
<circle cx="218.6" cy="234.5" r="0.42" fill="#888"/>
<circle cx="218.1" cy="225.4" r="0.42" fill="#444"/>
<circle cx="230.4" cy="225.1" r="0.42" fill="#888"/>
<circle cx="225.1" cy="219.1" r="0.42" fill="#666"/>
<circle cx="217.0" cy="229.3" r="0.42" fill="#888"/>
<circle cx="229.3" cy="234.2" r="0.42" fill="#666"/>
<circle cx="224.0" cy="235.2" r="0.42" fill="#888"/>
<circle cx="230.2" cy="227.3" r="0.42" fill="#888"/>
<circle cx="225.4" cy="236.6" r="0.42" fill="#888"/>
<circle cx="221.1" cy="232.3" r="0.42" fill="#444"/>
<circle cx="230.6" cy="232.1" r="0.42" fill="#666"/>
<circle cx="219.2" cy="225.8" r="0.42" fill="#666"/>
<circle cx="231.1" cy="228.1" r="0.42" fill="#444"/>
<circle cx="220.0" cy="226.2" r="0.42" fill="#444"/>
<circle cx="222.5" cy="233.4" r="0.42" fill="#444"/>
<circle cx="219.9" cy="235.8" r="0.42" fill="#444"/>
<circle cx="230.6" cy="221.9" r="0.42" fill="#666"/>
<circle cx="219.6" cy="234.9" r="0.42" fill="#444"/>
<circle cx="221.0" cy="233.5" r="0.42" fill="#444"/>
<circle cx="218.4" cy="228.4" r="0.42" fill="#666"/>
<circle cx="229.4" cy="234.3" r="0.42" fill="#888"/>
<circle cx="226.9" cy="218.3" r="0.42" fill="#444"/>
<circle cx="224.3" cy="235.2" r="0.42" fill="#666"/>
<circle cx="221.3" cy="221.9" r="0.42" fill="#666"/>
<circle cx="229.6" cy="219.8" r="0.42" fill="#444"/>
<circle cx="229.2" cy="234.0" r="0.42" fill="#666"/>
<circle cx="231.1" cy="226.6" r="0.42" fill="#444"/>
<circle cx="218.7" cy="235.1" r="0.42" fill="#888"/>
<circle cx="230.1" cy="219.6" r="0.42" fill="#444"/>
<circle cx="226.1" cy="221.6" r="0.42" fill="#444"/>
<circle cx="218.0" cy="227.0" r="0.42" fill="#888"/>
<circle cx="222.7" cy="218.4" r="0.42" fill="#666"/>
<circle cx="231.4" cy="233.4" r="0.42" fill="#444"/>
<circle cx="226.0" cy="221.5" r="0.42" fill="#444"/>
<circle cx="221.7" cy="222.5" r="0.42" fill="#444"/>
<circle cx="220.5" cy="222.2" r="0.42" fill="#666"/>
<circle cx="223.5" cy="222.4" r="0.42" fill="#444"/>
<circle cx="226.9" cy="234.9" r="0.42" fill="#888"/>
<circle cx="231.5" cy="228.4" r="0.42" fill="#666"/>
<circle cx="224.0" cy="235.6" r="0.42" fill="#444"/>
<circle cx="219.9" cy="229.4" r="0.42" fill="#444"/>
<circle cx="230.8" cy="229.7" r="0.42" fill="#888"/>
<circle cx="223.5" cy="233.7" r="0.42" fill="#666"/>
<circle cx="230.2" cy="222.2" r="0.42" fill="#444"/>
<circle cx="224.7" cy="237.6" r="0.42" fill="#666"/>
<circle cx="225.6" cy="234.0" r="0.42" fill="#666"/>
<circle cx="223.9" cy="220.8" r="0.42" fill="#666"/>
<circle cx="227.4" cy="237.8" r="0.42" fill="#888"/>
<circle cx="227.5" cy="223.4" r="0.42" fill="#666"/>
<circle cx="230.4" cy="226.9" r="0.42" fill="#444"/>
<circle cx="225.6" cy="235.1" r="0.42" fill="#666"/>
<circle cx="230.3" cy="234.1" r="0.42" fill="#888"/>
<circle cx="227.0" cy="234.6" r="0.42" fill="#666"/>
<circle cx="228.8" cy="225.1" r="0.42" fill="#888"/>
<circle cx="228.5" cy="234.5" r="0.42" fill="#444"/>
<circle cx="231.6" cy="229.6" r="0.42" fill="#666"/>
<circle cx="229.2" cy="230.2" r="0.42" fill="#666"/>
<circle cx="218.2" cy="231.3" r="0.42" fill="#666"/>
<circle cx="224.1" cy="217.2" r="0.42" fill="#444"/>
<circle cx="222.6" cy="234.1" r="0.42" fill="#888"/>
<circle cx="224.9" cy="222.5" r="0.42" fill="#888"/>
<circle cx="223.8" cy="218.1" r="0.42" fill="#666"/>
<circle cx="220.6" cy="230.5" r="0.42" fill="#444"/>
<circle cx="223.9" cy="235.7" r="0.42" fill="#444"/>
<circle cx="218.2" cy="224.6" r="0.42" fill="#666"/>
<circle cx="220.2" cy="236.3" r="0.42" fill="#666"/>
<circle cx="231.1" cy="233.3" r="0.42" fill="#444"/>
<circle cx="219.4" cy="236.0" r="0.42" fill="#444"/>
<circle cx="221.8" cy="237.0" r="0.42" fill="#666"/>
<circle cx="230.8" cy="229.8" r="0.42" fill="#888"/>
<circle cx="225.5" cy="222.5" r="0.42" fill="#444"/>
<circle cx="217.6" cy="230.6" r="0.42" fill="#444"/>
<circle cx="224.7" cy="238.1" r="0.42" fill="#888"/>
<circle cx="222.2" cy="234.3" r="0.42" fill="#888"/>
<circle cx="232.1" cy="230.9" r="0.42" fill="#888"/>
<circle cx="222.8" cy="234.8" r="0.42" fill="#444"/>
<circle cx="223.8" cy="219.5" r="0.42" fill="#888"/>
<circle cx="229.2" cy="226.3" r="0.42" fill="#444"/>
<circle cx="230.6" cy="234.3" r="0.42" fill="#666"/>
<circle cx="230.6" cy="226.1" r="0.42" fill="#666"/>
<circle cx="231.5" cy="223.0" r="0.42" fill="#444"/>
<circle cx="229.5" cy="225.4" r="0.42" fill="#888"/>
<circle cx="222.7" cy="237.2" r="0.42" fill="#444"/>
<circle cx="220.6" cy="223.7" r="0.42" fill="#666"/>
<circle cx="217.7" cy="230.7" r="0.42" fill="#888"/>
<circle cx="229.4" cy="231.5" r="0.42" fill="#444"/>
<circle cx="225.1" cy="234.3" r="0.42" fill="#444"/>
<circle cx="218.6" cy="229.3" r="0.42" fill="#444"/>
<circle cx="232.8" cy="227.0" r="0.42" fill="#444"/>
<circle cx="224.6" cy="234.3" r="0.42" fill="#444"/>
<circle cx="217.7" cy="233.6" r="0.42" fill="#666"/>
<circle cx="227.2" cy="233.9" r="0.42" fill="#666"/>
<circle cx="219.9" cy="221.9" r="0.42" fill="#888"/>
<circle cx="217.8" cy="225.9" r="0.42" fill="#444"/>
<circle cx="226.0" cy="221.2" r="0.42" fill="#666"/>
<circle cx="219.7" cy="225.2" r="0.42" fill="#888"/>
<circle cx="224.6" cy="236.3" r="0.42" fill="#444"/>
<circle cx="225.1" cy="234.8" r="0.42" fill="#888"/>
<circle cx="226.7" cy="233.8" r="0.42" fill="#666"/>
<circle cx="231.3" cy="227.9" r="0.42" fill="#444"/>
<circle cx="222.3" cy="223.3" r="0.42" fill="#666"/>
<circle cx="229.6" cy="227.9" r="0.42" fill="#666"/>
<circle cx="228.8" cy="223.7" r="0.42" fill="#666"/>
<circle cx="228.8" cy="225.3" r="0.42" fill="#666"/>
<circle cx="225.5" cy="234.1" r="0.42" fill="#888"/>
<circle cx="231.6" cy="226.8" r="0.42" fill="#444"/>
<circle cx="219.6" cy="235.8" r="0.42" fill="#666"/>
<circle cx="219.1" cy="222.3" r="0.42" fill="#888"/>
<circle cx="229.4" cy="226.2" r="0.42" fill="#888"/>
<circle cx="223.6" cy="221.0" r="0.42" fill="#444"/>
<circle cx="221.7" cy="233.0" r="0.42" fill="#444"/>
<circle cx="229.4" cy="228.3" r="0.42" fill="#888"/>
<circle cx="222.1" cy="222.8" r="0.42" fill="#444"/>
<circle cx="227.5" cy="221.1" r="0.42" fill="#666"/>
<circle cx="227.2" cy="235.0" r="0.42" fill="#444"/>
<circle cx="231.2" cy="229.9" r="0.42" fill="#666"/>
<circle cx="229.3" cy="230.7" r="0.42" fill="#666"/>
<circle cx="222.5" cy="222.8" r="0.42" fill="#888"/>
<circle cx="229.1" cy="231.8" r="0.42" fill="#888"/>
<circle cx="222.1" cy="221.4" r="0.42" fill="#444"/>
<circle cx="222.5" cy="236.4" r="0.42" fill="#666"/>
<circle cx="221.3" cy="231.2" r="0.42" fill="#666"/>
<circle cx="221.4" cy="222.2" r="0.42" fill="#666"/>
<circle cx="226.2" cy="233.7" r="0.42" fill="#444"/>
<circle cx="218.2" cy="233.0" r="0.42" fill="#666"/>
<circle cx="219.9" cy="224.7" r="0.42" fill="#444"/>
<circle cx="228.0" cy="232.6" r="0.42" fill="#444"/>
<circle cx="219.9" cy="220.0" r="0.42" fill="#444"/>
<path d="M219.6,226 C219.6,221 221.8,218.4 225.0,218.4 C228.2,218.4 230.4,221 230.4,226 C230.4,231 228.8,235 228.6,238.2 L221.4,238.2 C221.2,235 219.6,231 219.6,226 Z" fill="#fff" stroke="#222" stroke-width="0.9"/>
<path d="M221.5,225 C221.5,222.2 223.2,220.6 225.0,220.6 C226.8,220.6 228.5,222.2 228.5,225 C228.5,229 227.1,232 226.9,236.6 L223.1,236.6 C222.9,232 221.5,229 221.5,225 Z" fill="#000"/>
<rect x="221.8" y="236.4" width="6.4" height="2.1" fill="#000"/>
<circle cx="220.5" cy="208.6" r="0.45" fill="#888"/>
<circle cx="223.9" cy="196.6" r="0.45" fill="#999"/>
<circle cx="228.1" cy="195.0" r="0.45" fill="#aaa"/>
<circle cx="228.8" cy="203.6" r="0.45" fill="#888"/>
<circle cx="225.2" cy="194.5" r="0.45" fill="#aaa"/>
<circle cx="232.9" cy="200.0" r="0.45" fill="#bbb"/>
<circle cx="229.9" cy="212.0" r="0.45" fill="#bbb"/>
<circle cx="225.7" cy="207.6" r="0.45" fill="#888"/>
<circle cx="223.1" cy="206.3" r="0.45" fill="#bbb"/>
<circle cx="222.2" cy="210.9" r="0.45" fill="#aaa"/>
<circle cx="228.0" cy="201.8" r="0.45" fill="#bbb"/>
<circle cx="229.1" cy="196.8" r="0.45" fill="#999"/>
<circle cx="228.8" cy="208.4" r="0.45" fill="#888"/>
<circle cx="228.8" cy="194.4" r="0.45" fill="#bbb"/>
<circle cx="229.7" cy="207.2" r="0.45" fill="#999"/>
<circle cx="223.1" cy="196.0" r="0.45" fill="#bbb"/>
<circle cx="221.1" cy="209.5" r="0.45" fill="#aaa"/>
<circle cx="228.8" cy="199.9" r="0.45" fill="#888"/>
<circle cx="222.9" cy="202.7" r="0.45" fill="#aaa"/>
<circle cx="229.2" cy="197.2" r="0.45" fill="#666"/>
<circle cx="224.4" cy="198.4" r="0.45" fill="#bbb"/>
<circle cx="224.6" cy="209.5" r="0.45" fill="#aaa"/>
<circle cx="230.1" cy="201.8" r="0.45" fill="#666"/>
<circle cx="222.1" cy="196.2" r="0.45" fill="#aaa"/>
<circle cx="223.3" cy="203.9" r="0.45" fill="#666"/>
<circle cx="231.4" cy="194.4" r="0.45" fill="#888"/>
<circle cx="231.6" cy="209.5" r="0.45" fill="#bbb"/>
<circle cx="229.7" cy="195.2" r="0.45" fill="#bbb"/>
<circle cx="230.8" cy="209.6" r="0.45" fill="#666"/>
<circle cx="224.2" cy="211.1" r="0.45" fill="#bbb"/>
<circle cx="226.4" cy="197.6" r="0.45" fill="#aaa"/>
<circle cx="221.3" cy="199.5" r="0.45" fill="#888"/>
<circle cx="225.1" cy="198.1" r="0.45" fill="#999"/>
<circle cx="222.4" cy="206.1" r="0.45" fill="#999"/>
<circle cx="230.8" cy="199.2" r="0.45" fill="#aaa"/>
<circle cx="232.8" cy="196.5" r="0.45" fill="#bbb"/>
<circle cx="230.7" cy="205.7" r="0.45" fill="#bbb"/>
<circle cx="226.3" cy="203.9" r="0.45" fill="#999"/>
<circle cx="225.6" cy="201.8" r="0.45" fill="#999"/>
<circle cx="228.6" cy="207.5" r="0.45" fill="#aaa"/>
<circle cx="229.8" cy="195.9" r="0.45" fill="#bbb"/>
<circle cx="232.0" cy="194.6" r="0.45" fill="#999"/>
<circle cx="230.5" cy="204.2" r="0.45" fill="#666"/>
<circle cx="226.4" cy="198.7" r="0.45" fill="#bbb"/>
<circle cx="224.9" cy="209.9" r="0.45" fill="#999"/>
<circle cx="224.8" cy="201.3" r="0.45" fill="#999"/>
<circle cx="224.4" cy="209.2" r="0.45" fill="#aaa"/>
<circle cx="225.7" cy="198.3" r="0.45" fill="#bbb"/>
<circle cx="227.1" cy="210.3" r="0.45" fill="#999"/>
<circle cx="226.1" cy="199.9" r="0.45" fill="#bbb"/>
<circle cx="233.2" cy="208.6" r="0.45" fill="#666"/>
<circle cx="224.1" cy="198.1" r="0.45" fill="#999"/>
<circle cx="224.6" cy="204.1" r="0.45" fill="#666"/>
<circle cx="224.8" cy="196.3" r="0.45" fill="#888"/>
<circle cx="226.4" cy="194.7" r="0.45" fill="#bbb"/>
<circle cx="226.5" cy="200.8" r="0.45" fill="#666"/>
<circle cx="223.2" cy="202.0" r="0.45" fill="#999"/>
<circle cx="226.5" cy="205.6" r="0.45" fill="#888"/>
<circle cx="223.1" cy="196.8" r="0.45" fill="#666"/>
<circle cx="231.6" cy="212.7" r="0.45" fill="#888"/>
<circle cx="226.2" cy="194.9" r="0.45" fill="#888"/>
<circle cx="223.7" cy="211.4" r="0.45" fill="#999"/>
<circle cx="225.1" cy="193.8" r="0.45" fill="#bbb"/>
<circle cx="228.5" cy="211.8" r="0.45" fill="#bbb"/>
<circle cx="225.0" cy="212.7" r="0.45" fill="#aaa"/>
<circle cx="224.4" cy="198.7" r="0.45" fill="#666"/>
<circle cx="230.9" cy="201.9" r="0.45" fill="#888"/>
<circle cx="228.2" cy="196.8" r="0.45" fill="#666"/>
<circle cx="231.1" cy="212.8" r="0.45" fill="#888"/>
<circle cx="227.4" cy="202.0" r="0.45" fill="#bbb"/>
<circle cx="224.1" cy="206.7" r="0.45" fill="#bbb"/>
<circle cx="224.7" cy="197.2" r="0.45" fill="#999"/>
<circle cx="231.2" cy="213.9" r="0.45" fill="#aaa"/>
<circle cx="228.9" cy="208.2" r="0.45" fill="#666"/>
<circle cx="224.7" cy="212.2" r="0.45" fill="#666"/>
<circle cx="229.5" cy="208.7" r="0.45" fill="#aaa"/>
<circle cx="232.0" cy="198.9" r="0.45" fill="#666"/>
<circle cx="232.8" cy="212.8" r="0.45" fill="#999"/>
<circle cx="222.5" cy="208.1" r="0.45" fill="#999"/>
<circle cx="223.9" cy="207.6" r="0.45" fill="#bbb"/>
<circle cx="223.5" cy="213.4" r="0.45" fill="#999"/>
<circle cx="221.9" cy="198.0" r="0.45" fill="#bbb"/>
<circle cx="220.6" cy="193.9" r="0.45" fill="#999"/>
<circle cx="232.2" cy="197.7" r="0.45" fill="#888"/>
<circle cx="223.6" cy="208.8" r="0.45" fill="#999"/>
<circle cx="228.2" cy="205.9" r="0.45" fill="#aaa"/>
<circle cx="230.1" cy="212.1" r="0.45" fill="#bbb"/>
<circle cx="221.1" cy="207.8" r="0.45" fill="#666"/>
<circle cx="228.3" cy="202.5" r="0.45" fill="#888"/>
<circle cx="224.6" cy="197.9" r="0.45" fill="#bbb"/>
<circle cx="225.9" cy="205.5" r="0.45" fill="#bbb"/>
<circle cx="228.6" cy="194.1" r="0.45" fill="#666"/>
<circle cx="226.1" cy="206.3" r="0.45" fill="#888"/>
<circle cx="226.1" cy="194.2" r="0.45" fill="#666"/>
<circle cx="228.6" cy="196.4" r="0.45" fill="#666"/>
<circle cx="225.4" cy="194.9" r="0.45" fill="#bbb"/>
<circle cx="222.2" cy="209.1" r="0.45" fill="#888"/>
<circle cx="229.5" cy="211.8" r="0.45" fill="#666"/>
<circle cx="221.7" cy="211.5" r="0.45" fill="#aaa"/>
<circle cx="228.8" cy="195.9" r="0.45" fill="#666"/>
<circle cx="228.5" cy="213.0" r="0.45" fill="#666"/>
<circle cx="229.2" cy="199.5" r="0.45" fill="#666"/>
<circle cx="223.1" cy="196.3" r="0.45" fill="#888"/>
<circle cx="226.3" cy="198.9" r="0.45" fill="#999"/>
<circle cx="229.9" cy="198.8" r="0.45" fill="#999"/>
<circle cx="232.3" cy="212.2" r="0.45" fill="#bbb"/>
<circle cx="228.7" cy="203.9" r="0.45" fill="#999"/>
<circle cx="226.5" cy="202.0" r="0.45" fill="#aaa"/>
<circle cx="226.6" cy="204.2" r="0.45" fill="#666"/>
<circle cx="224.2" cy="204.6" r="0.45" fill="#888"/>
<circle cx="231.2" cy="208.2" r="0.45" fill="#666"/>
<circle cx="224.8" cy="202.5" r="0.45" fill="#bbb"/>
<circle cx="225.9" cy="197.7" r="0.45" fill="#666"/>
<circle cx="230.8" cy="203.6" r="0.45" fill="#888"/>
<circle cx="227.2" cy="213.3" r="0.45" fill="#bbb"/>
<circle cx="223.6" cy="198.9" r="0.45" fill="#888"/>
<circle cx="232.1" cy="199.4" r="0.45" fill="#888"/>
<circle cx="229.2" cy="197.0" r="0.45" fill="#666"/>
<circle cx="226.2" cy="203.6" r="0.45" fill="#bbb"/>
<circle cx="228.1" cy="200.9" r="0.45" fill="#aaa"/>
<circle cx="222.7" cy="212.5" r="0.45" fill="#666"/>
<circle cx="223.0" cy="201.2" r="0.45" fill="#999"/>
<circle cx="229.3" cy="199.0" r="0.45" fill="#bbb"/>
<circle cx="224.0" cy="211.6" r="0.45" fill="#888"/>
<circle cx="227.1" cy="212.9" r="0.45" fill="#888"/>
<circle cx="221.8" cy="209.0" r="0.45" fill="#666"/>
<circle cx="226.0" cy="200.7" r="0.45" fill="#999"/>
<circle cx="220.7" cy="202.8" r="0.45" fill="#bbb"/>
<circle cx="226.2" cy="208.7" r="0.45" fill="#888"/>
<circle cx="222.3" cy="198.8" r="0.45" fill="#888"/>
<circle cx="228.2" cy="196.2" r="0.45" fill="#aaa"/>
<circle cx="224.0" cy="204.0" r="0.45" fill="#999"/>
<circle cx="223.2" cy="199.8" r="0.45" fill="#bbb"/>
<circle cx="228.2" cy="198.7" r="0.45" fill="#999"/>
<circle cx="228.6" cy="205.9" r="0.45" fill="#999"/>
<circle cx="228.6" cy="197.5" r="0.45" fill="#666"/>
<circle cx="229.5" cy="197.0" r="0.45" fill="#666"/>
<circle cx="227.7" cy="196.6" r="0.45" fill="#999"/>
<circle cx="228.8" cy="208.6" r="0.45" fill="#aaa"/>
<circle cx="226.9" cy="212.2" r="0.45" fill="#999"/>
<circle cx="228.6" cy="197.8" r="0.45" fill="#aaa"/>
<circle cx="226.6" cy="211.0" r="0.45" fill="#aaa"/>
<circle cx="227.2" cy="207.7" r="0.45" fill="#bbb"/>
<circle cx="229.8" cy="194.1" r="0.45" fill="#999"/>
<circle cx="226.8" cy="205.9" r="0.45" fill="#aaa"/>
<circle cx="229.5" cy="211.0" r="0.45" fill="#bbb"/>
<circle cx="227.2" cy="205.6" r="0.45" fill="#aaa"/>
<circle cx="229.8" cy="206.9" r="0.45" fill="#bbb"/>
<circle cx="223.2" cy="211.0" r="0.45" fill="#888"/>
<circle cx="224.9" cy="200.0" r="0.45" fill="#666"/>
<circle cx="224.4" cy="211.9" r="0.45" fill="#888"/>
<circle cx="228.1" cy="206.4" r="0.45" fill="#999"/>
<circle cx="222.1" cy="210.9" r="0.45" fill="#aaa"/>
<circle cx="222.8" cy="202.0" r="0.45" fill="#888"/>
<circle cx="228.3" cy="211.8" r="0.45" fill="#999"/>
<circle cx="227.7" cy="203.6" r="0.45" fill="#666"/>
<circle cx="224.0" cy="194.4" r="0.45" fill="#bbb"/>
<circle cx="228.1" cy="213.0" r="0.45" fill="#888"/>
<circle cx="232.1" cy="204.2" r="0.45" fill="#666"/>
<circle cx="229.1" cy="197.8" r="0.45" fill="#aaa"/>
<circle cx="224.2" cy="204.0" r="0.45" fill="#999"/>
<circle cx="223.8" cy="212.9" r="0.45" fill="#888"/>
<circle cx="226.7" cy="213.8" r="0.45" fill="#888"/>
<circle cx="222.9" cy="196.1" r="0.45" fill="#bbb"/>
<circle cx="230.5" cy="200.9" r="0.45" fill="#666"/>
<circle cx="227.1" cy="194.9" r="0.45" fill="#666"/>
<circle cx="230.2" cy="202.1" r="0.45" fill="#aaa"/>
<circle cx="223.8" cy="205.4" r="0.45" fill="#666"/>
<circle cx="223.6" cy="198.2" r="0.45" fill="#aaa"/>
<rect x="217.6" y="192.5" width="18.95" height="22.5" fill="none" stroke="#000" stroke-width="1.05"/>
<text x="236.7" y="198.7" font-size="7.6" text-anchor="start" stroke="#000" stroke-width="0.22" >1.1</text>
<line x1="151.10" y1="244.00" x2="186.20" y2="244.00" stroke="#333" stroke-width="1.7" />
<line x1="208.10" y1="244.00" x2="245.00" y2="244.00" stroke="#333" stroke-width="1.7" />
<text x="189.2" y="247.3" font-size="7.5" text-anchor="start" stroke="#000" stroke-width="0.22" >CD4</text>
<text x="290.7" y="166.0" font-size="11" text-anchor="start" stroke="#000" stroke-width="0.22" >D</text>
<line x1="336.50" y1="165.10" x2="348.10" y2="165.10" stroke="#444" stroke-width="1.0" stroke-dasharray="1.0,0.8"/>
<line x1="336.50" y1="177.50" x2="348.10" y2="177.50" stroke="#000" stroke-width="1.1" />
<text x="354.8" y="167.3" font-size="7.7" text-anchor="start" stroke="#000" stroke-width="0.22" >Cy/GVAX-CD4 (n=3)</text>
<text x="354.8" y="180.8" font-size="7.7" text-anchor="start" stroke="#000" stroke-width="0.22" >Cy/GVAX-CD4/αPD1+αPDL1 Abs (n=4)</text>
<line x1="332.60" y1="188.70" x2="332.60" y2="265.50" stroke="#000" stroke-width="1.1" />
<line x1="329.00" y1="265.00" x2="332.60" y2="265.00" stroke="#000" stroke-width="1.1" />
<text x="326.8" y="268.0" font-size="7.6" text-anchor="end" stroke="#000" stroke-width="0.22" >0</text>
<line x1="329.00" y1="246.05" x2="332.60" y2="246.05" stroke="#000" stroke-width="1.1" />
<text x="326.8" y="249.05" font-size="7.6" text-anchor="end" stroke="#000" stroke-width="0.22" >100</text>
<line x1="329.00" y1="227.10" x2="332.60" y2="227.10" stroke="#000" stroke-width="1.1" />
<text x="326.8" y="230.1" font-size="7.6" text-anchor="end" stroke="#000" stroke-width="0.22" >200</text>
<line x1="329.00" y1="208.15" x2="332.60" y2="208.15" stroke="#000" stroke-width="1.1" />
<text x="326.8" y="211.15" font-size="7.6" text-anchor="end" stroke="#000" stroke-width="0.22" >300</text>
<line x1="329.00" y1="189.20" x2="332.60" y2="189.20" stroke="#000" stroke-width="1.1" />
<text x="326.8" y="192.2" font-size="7.6" text-anchor="end" stroke="#000" stroke-width="0.22" >400</text>
<line x1="330.80" y1="255.53" x2="332.60" y2="255.53" stroke="#000" stroke-width="1.0" />
<line x1="330.80" y1="236.57" x2="332.60" y2="236.57" stroke="#000" stroke-width="1.0" />
<line x1="330.80" y1="217.62" x2="332.60" y2="217.62" stroke="#000" stroke-width="1.0" />
<line x1="330.80" y1="198.68" x2="332.60" y2="198.68" stroke="#000" stroke-width="1.0" />
<line x1="332.45" y1="271.30" x2="444.55" y2="271.30" stroke="#000" stroke-width="1.1" />
<line x1="333.00" y1="271.30" x2="333.00" y2="275.00" stroke="#000" stroke-width="1.1" />
<text x="333.6" y="283.6" font-size="7" text-anchor="middle" stroke="#000" stroke-width="0.22" >0</text>
<line x1="338.55" y1="271.30" x2="338.55" y2="273.50" stroke="#000" stroke-width="1.0" />
<line x1="344.10" y1="271.30" x2="344.10" y2="273.50" stroke="#000" stroke-width="1.0" />
<line x1="349.65" y1="271.30" x2="349.65" y2="273.50" stroke="#000" stroke-width="1.0" />
<line x1="355.20" y1="271.30" x2="355.20" y2="273.50" stroke="#000" stroke-width="1.0" />
<line x1="360.75" y1="271.30" x2="360.75" y2="275.00" stroke="#000" stroke-width="1.1" />
<text x="361.35" y="283.6" font-size="7" text-anchor="middle" stroke="#000" stroke-width="0.22" >10</text>
<line x1="366.30" y1="271.30" x2="366.30" y2="273.50" stroke="#000" stroke-width="1.0" />
<line x1="371.85" y1="271.30" x2="371.85" y2="273.50" stroke="#000" stroke-width="1.0" />
<line x1="377.40" y1="271.30" x2="377.40" y2="273.50" stroke="#000" stroke-width="1.0" />
<line x1="382.95" y1="271.30" x2="382.95" y2="273.50" stroke="#000" stroke-width="1.0" />
<line x1="388.50" y1="271.30" x2="388.50" y2="275.00" stroke="#000" stroke-width="1.1" />
<text x="389.1" y="283.6" font-size="7" text-anchor="middle" stroke="#000" stroke-width="0.22" >20</text>
<line x1="394.05" y1="271.30" x2="394.05" y2="273.50" stroke="#000" stroke-width="1.0" />
<line x1="399.60" y1="271.30" x2="399.60" y2="273.50" stroke="#000" stroke-width="1.0" />
<line x1="405.15" y1="271.30" x2="405.15" y2="273.50" stroke="#000" stroke-width="1.0" />
<line x1="410.70" y1="271.30" x2="410.70" y2="273.50" stroke="#000" stroke-width="1.0" />
<line x1="416.25" y1="271.30" x2="416.25" y2="275.00" stroke="#000" stroke-width="1.1" />
<text x="416.85" y="283.6" font-size="7" text-anchor="middle" stroke="#000" stroke-width="0.22" >30</text>
<line x1="421.80" y1="271.30" x2="421.80" y2="273.50" stroke="#000" stroke-width="1.0" />
<line x1="427.35" y1="271.30" x2="427.35" y2="273.50" stroke="#000" stroke-width="1.0" />
<line x1="432.90" y1="271.30" x2="432.90" y2="273.50" stroke="#000" stroke-width="1.0" />
<line x1="438.45" y1="271.30" x2="438.45" y2="273.50" stroke="#000" stroke-width="1.0" />
<line x1="444.00" y1="271.30" x2="444.00" y2="275.00" stroke="#000" stroke-width="1.1" />
<text x="444.6" y="283.6" font-size="7" text-anchor="middle" stroke="#000" stroke-width="0.22" >40</text>
<text x="390.0" y="294.4" font-size="7.5" text-anchor="middle" stroke="#000" stroke-width="0.22" >Days post Cy</text>
<text transform="translate(307.9,230.0) rotate(-90)" font-size="7.75" text-anchor="middle" stroke="#000" stroke-width="0.22">Tumor size (mm³)</text>
<path d="M332.90,231.00 C333.93,230.22 337.12,226.92 339.10,226.30 C341.08,225.68 342.68,227.13 344.80,227.30 C346.92,227.47 349.45,226.58 351.80,227.30 C354.15,228.02 356.87,229.98 358.90,231.60 C360.93,233.22 362.35,235.50 364.00,237.00 C365.65,238.50 367.47,240.18 368.80,240.60 C370.13,241.02 370.60,240.30 372.00,239.50 C373.40,238.70 374.92,238.05 377.20,235.80 C379.48,233.55 382.87,230.23 385.70,226.00 C388.53,221.77 391.38,215.58 394.20,210.40 C397.02,205.22 401.20,197.48 402.60,194.90" fill="none" stroke="#000" stroke-width="1.2" stroke-linejoin="round" stroke-linecap="butt" stroke-dasharray="2.1,1.4"/>
<path d="M332.90,232.00 C333.93,231.25 336.92,227.50 339.10,227.50 C341.28,227.50 343.65,230.38 346.00,232.00 C348.35,233.62 350.87,235.62 353.20,237.20 C355.53,238.78 357.63,240.08 360.00,241.50 C362.37,242.92 365.30,244.70 367.40,245.70 C369.50,246.70 370.73,247.18 372.60,247.50 C374.47,247.82 376.42,247.95 378.60,247.60 C380.78,247.25 382.87,247.13 385.70,245.40 C388.53,243.67 392.72,239.60 395.60,237.20 C398.48,234.80 400.65,233.12 403.00,231.00 C405.35,228.88 407.87,226.83 409.70,224.50 C411.53,222.17 412.55,220.08 414.00,217.00 C415.45,213.92 417.67,207.83 418.40,206.00" fill="none" stroke="#000" stroke-width="1.2" stroke-linejoin="round" stroke-linecap="butt" stroke-dasharray="2.1,1.4"/>
<path d="M332.90,233.00 C333.93,232.27 336.92,228.35 339.10,228.60 C341.28,228.85 343.65,232.60 346.00,234.50 C348.35,236.40 350.53,238.33 353.20,240.00 C355.87,241.67 359.17,243.20 362.00,244.50 C364.83,245.80 367.70,247.12 370.20,247.80 C372.70,248.48 374.70,248.68 377.00,248.60 C379.30,248.52 381.13,248.82 384.00,247.30 C386.87,245.78 391.03,241.88 394.20,239.50 C397.37,237.12 400.42,234.95 403.00,233.00 C405.58,231.05 407.78,230.13 409.70,227.80 C411.62,225.47 412.92,222.80 414.50,219.00 C416.08,215.20 418.42,207.33 419.20,205.00" fill="none" stroke="#000" stroke-width="1.2" stroke-linejoin="round" stroke-linecap="butt" stroke-dasharray="2.1,1.4"/>
<polyline points="333.00,232.00 336.70,229.50 350.00,239.00 358.00,251.50 364.60,255.50 372.00,260.00 377.90,265.00" fill="none" stroke="#000" stroke-width="1.3" stroke-linejoin="round" stroke-linecap="round" />
<polyline points="333.00,233.50 336.70,231.00 350.00,240.00 358.00,252.50 363.00,256.50 370.00,261.00 376.00,265.00" fill="none" stroke="#000" stroke-width="1.3" stroke-linejoin="round" stroke-linecap="round" />
<polyline points="333.00,235.50 336.70,233.00 350.00,241.00 356.00,248.00 364.00,255.00 372.60,258.20 378.00,262.00 383.00,265.00" fill="none" stroke="#000" stroke-width="1.2" stroke-linejoin="round" stroke-linecap="round" />
<polyline points="333.00,231.50 337.00,228.50 350.00,236.00 360.00,243.00 368.00,250.00 375.00,256.00 381.00,261.00 387.20,265.00" fill="none" stroke="#000" stroke-width="1.2" stroke-linejoin="round" stroke-linecap="round" />
<line x1="376.50" y1="265.00" x2="430.00" y2="265.00" stroke="#000" stroke-width="1.2" />
</svg></body></html>
